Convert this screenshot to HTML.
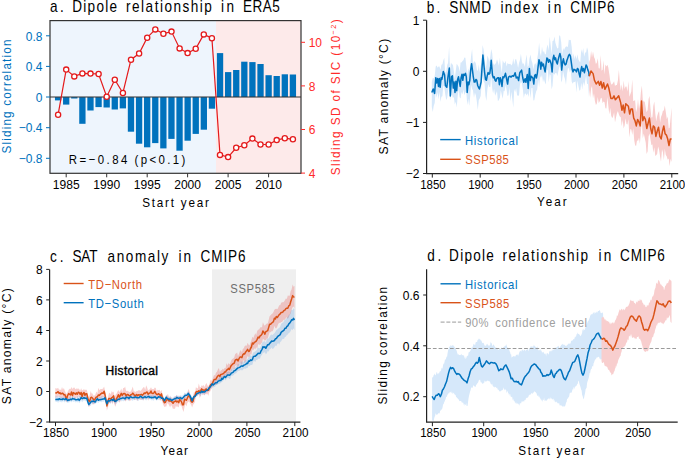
<!DOCTYPE html>
<html><head><meta charset="utf-8"><style>
html,body{margin:0;padding:0;background:#fff;}
svg{display:block;}
text{font-family:"Liberation Sans",sans-serif;}
</style></head><body>
<svg width="685" height="459" viewBox="0 0 685 459">
<rect width="685" height="459" fill="#fff"/>
<rect x="50.0" y="20.6" width="166.0" height="152.7" fill="#eef5fd"/>
<rect x="216.0" y="20.6" width="85.0" height="152.7" fill="#fdeaea"/>
<rect x="54.95" y="97.05" width="6.3" height="3.35" fill="#0072BD"/>
<rect x="63.04" y="97.05" width="6.3" height="7.55" fill="#0072BD"/>
<rect x="71.14" y="97.05" width="6.3" height="1.45" fill="#0072BD"/>
<rect x="79.24" y="97.05" width="6.3" height="26.75" fill="#0072BD"/>
<rect x="87.33" y="97.05" width="6.3" height="13.45" fill="#0072BD"/>
<rect x="95.43" y="97.05" width="6.3" height="10.05" fill="#0072BD"/>
<rect x="103.53" y="97.05" width="6.3" height="10.45" fill="#0072BD"/>
<rect x="111.63" y="97.05" width="6.3" height="12.45" fill="#0072BD"/>
<rect x="119.72" y="97.05" width="6.3" height="11.35" fill="#0072BD"/>
<rect x="127.82" y="97.05" width="6.3" height="34.65" fill="#0072BD"/>
<rect x="135.92" y="97.05" width="6.3" height="46.65" fill="#0072BD"/>
<rect x="144.01" y="97.05" width="6.3" height="50.25" fill="#0072BD"/>
<rect x="152.11" y="97.05" width="6.3" height="46.05" fill="#0072BD"/>
<rect x="160.21" y="97.05" width="6.3" height="51.35" fill="#0072BD"/>
<rect x="168.30" y="97.05" width="6.3" height="41.85" fill="#0072BD"/>
<rect x="176.40" y="97.05" width="6.3" height="53.65" fill="#0072BD"/>
<rect x="184.50" y="97.05" width="6.3" height="43.65" fill="#0072BD"/>
<rect x="192.60" y="97.05" width="6.3" height="36.85" fill="#0072BD"/>
<rect x="200.69" y="97.05" width="6.3" height="32.65" fill="#0072BD"/>
<rect x="208.79" y="97.05" width="6.3" height="11.65" fill="#0072BD"/>
<rect x="216.89" y="53.10" width="6.3" height="43.95" fill="#0072BD"/>
<rect x="224.98" y="72.10" width="6.3" height="24.95" fill="#0072BD"/>
<rect x="233.08" y="70.00" width="6.3" height="27.05" fill="#0072BD"/>
<rect x="241.18" y="61.70" width="6.3" height="35.35" fill="#0072BD"/>
<rect x="249.27" y="62.10" width="6.3" height="34.95" fill="#0072BD"/>
<rect x="257.37" y="64.00" width="6.3" height="33.05" fill="#0072BD"/>
<rect x="265.47" y="75.20" width="6.3" height="21.85" fill="#0072BD"/>
<rect x="273.57" y="76.00" width="6.3" height="21.05" fill="#0072BD"/>
<rect x="281.66" y="74.30" width="6.3" height="22.75" fill="#0072BD"/>
<rect x="289.76" y="74.50" width="6.3" height="22.55" fill="#0072BD"/>
<line x1="50.0" y1="97.05" x2="301.0" y2="97.05" stroke="#333" stroke-width="1.1"/>
<polyline points="58.1,114.7 66.2,69.6 74.3,76.4 82.4,73.4 90.5,73.6 98.6,74.0 106.7,96.7 114.8,79.7 122.9,93.0 131.0,59.7 139.1,53.5 147.2,37.7 155.3,29.4 163.4,33.7 171.5,31.6 179.6,48.4 187.6,53.1 195.7,48.8 203.8,34.4 211.9,38.2 220.0,154.9 228.1,157.1 236.2,147.8 244.3,145.3 252.4,138.6 260.5,144.5 268.6,144.5 276.7,140.1 284.8,138.2 292.9,139.3" fill="none" stroke="#e41a1c" stroke-width="1.2"/>
<circle cx="58.1" cy="114.7" r="2.6" fill="#fff" stroke="#e41a1c" stroke-width="1.3"/>
<circle cx="66.2" cy="69.6" r="2.6" fill="#fff" stroke="#e41a1c" stroke-width="1.3"/>
<circle cx="74.3" cy="76.4" r="2.6" fill="#fff" stroke="#e41a1c" stroke-width="1.3"/>
<circle cx="82.4" cy="73.4" r="2.6" fill="#fff" stroke="#e41a1c" stroke-width="1.3"/>
<circle cx="90.5" cy="73.6" r="2.6" fill="#fff" stroke="#e41a1c" stroke-width="1.3"/>
<circle cx="98.6" cy="74.0" r="2.6" fill="#fff" stroke="#e41a1c" stroke-width="1.3"/>
<circle cx="106.7" cy="96.7" r="2.6" fill="#fff" stroke="#e41a1c" stroke-width="1.3"/>
<circle cx="114.8" cy="79.7" r="2.6" fill="#fff" stroke="#e41a1c" stroke-width="1.3"/>
<circle cx="122.9" cy="93.0" r="2.6" fill="#fff" stroke="#e41a1c" stroke-width="1.3"/>
<circle cx="131.0" cy="59.7" r="2.6" fill="#fff" stroke="#e41a1c" stroke-width="1.3"/>
<circle cx="139.1" cy="53.5" r="2.6" fill="#fff" stroke="#e41a1c" stroke-width="1.3"/>
<circle cx="147.2" cy="37.7" r="2.6" fill="#fff" stroke="#e41a1c" stroke-width="1.3"/>
<circle cx="155.3" cy="29.4" r="2.6" fill="#fff" stroke="#e41a1c" stroke-width="1.3"/>
<circle cx="163.4" cy="33.7" r="2.6" fill="#fff" stroke="#e41a1c" stroke-width="1.3"/>
<circle cx="171.5" cy="31.6" r="2.6" fill="#fff" stroke="#e41a1c" stroke-width="1.3"/>
<circle cx="179.6" cy="48.4" r="2.6" fill="#fff" stroke="#e41a1c" stroke-width="1.3"/>
<circle cx="187.6" cy="53.1" r="2.6" fill="#fff" stroke="#e41a1c" stroke-width="1.3"/>
<circle cx="195.7" cy="48.8" r="2.6" fill="#fff" stroke="#e41a1c" stroke-width="1.3"/>
<circle cx="203.8" cy="34.4" r="2.6" fill="#fff" stroke="#e41a1c" stroke-width="1.3"/>
<circle cx="211.9" cy="38.2" r="2.6" fill="#fff" stroke="#e41a1c" stroke-width="1.3"/>
<circle cx="220.0" cy="154.9" r="2.6" fill="#fff" stroke="#e41a1c" stroke-width="1.3"/>
<circle cx="228.1" cy="157.1" r="2.6" fill="#fff" stroke="#e41a1c" stroke-width="1.3"/>
<circle cx="236.2" cy="147.8" r="2.6" fill="#fff" stroke="#e41a1c" stroke-width="1.3"/>
<circle cx="244.3" cy="145.3" r="2.6" fill="#fff" stroke="#e41a1c" stroke-width="1.3"/>
<circle cx="252.4" cy="138.6" r="2.6" fill="#fff" stroke="#e41a1c" stroke-width="1.3"/>
<circle cx="260.5" cy="144.5" r="2.6" fill="#fff" stroke="#e41a1c" stroke-width="1.3"/>
<circle cx="268.6" cy="144.5" r="2.6" fill="#fff" stroke="#e41a1c" stroke-width="1.3"/>
<circle cx="276.7" cy="140.1" r="2.6" fill="#fff" stroke="#e41a1c" stroke-width="1.3"/>
<circle cx="284.8" cy="138.2" r="2.6" fill="#fff" stroke="#e41a1c" stroke-width="1.3"/>
<circle cx="292.9" cy="139.3" r="2.6" fill="#fff" stroke="#e41a1c" stroke-width="1.3"/>
<rect x="50.0" y="20.6" width="251.0" height="152.7" fill="none" stroke="#333" stroke-width="1.2"/>
<line x1="46.0" y1="35.8" x2="50.0" y2="35.8" stroke="#0072BD" stroke-width="1"/>
<text transform="translate(42.50,40.50) scale(0.96,1)" font-size="12.5" fill="#0072BD" text-anchor="end" >0.8</text>
<line x1="46.0" y1="66.4" x2="50.0" y2="66.4" stroke="#0072BD" stroke-width="1"/>
<text transform="translate(42.50,71.13) scale(0.96,1)" font-size="12.5" fill="#0072BD" text-anchor="end" >0.4</text>
<line x1="46.0" y1="97.0" x2="50.0" y2="97.0" stroke="#0072BD" stroke-width="1"/>
<text transform="translate(42.50,101.75) scale(0.96,1)" font-size="12.5" fill="#0072BD" text-anchor="end" >0</text>
<line x1="46.0" y1="127.7" x2="50.0" y2="127.7" stroke="#0072BD" stroke-width="1"/>
<text transform="translate(42.50,132.37) scale(0.96,1)" font-size="12.5" fill="#0072BD" text-anchor="end" >−0.4</text>
<line x1="46.0" y1="158.3" x2="50.0" y2="158.3" stroke="#0072BD" stroke-width="1"/>
<text transform="translate(42.50,163.00) scale(0.96,1)" font-size="12.5" fill="#0072BD" text-anchor="end" >−0.8</text>
<line x1="301.0" y1="42.3" x2="305.0" y2="42.3" stroke="#ff2a2a" stroke-width="1"/>
<text transform="translate(308.70,47.00) scale(0.96,1)" font-size="12.5" fill="#ff2a2a" >10</text>
<line x1="301.0" y1="85.9" x2="305.0" y2="85.9" stroke="#ff2a2a" stroke-width="1"/>
<text transform="translate(308.70,90.60) scale(0.96,1)" font-size="12.5" fill="#ff2a2a" >8</text>
<line x1="301.0" y1="129.5" x2="305.0" y2="129.5" stroke="#ff2a2a" stroke-width="1"/>
<text transform="translate(308.70,134.20) scale(0.96,1)" font-size="12.5" fill="#ff2a2a" >6</text>
<line x1="301.0" y1="173.1" x2="305.0" y2="173.1" stroke="#ff2a2a" stroke-width="1"/>
<text transform="translate(308.70,177.80) scale(0.96,1)" font-size="12.5" fill="#ff2a2a" >4</text>
<line x1="66.2" y1="173.3" x2="66.2" y2="177.3" stroke="#333" stroke-width="1"/>
<text x="66.2" y="188.6" font-size="12.5" fill="#000" text-anchor="middle" textLength="26.80" lengthAdjust="spacingAndGlyphs" >1985</text>
<line x1="106.7" y1="173.3" x2="106.7" y2="177.3" stroke="#333" stroke-width="1"/>
<text x="106.7" y="188.6" font-size="12.5" fill="#000" text-anchor="middle" textLength="26.80" lengthAdjust="spacingAndGlyphs" >1990</text>
<line x1="147.2" y1="173.3" x2="147.2" y2="177.3" stroke="#333" stroke-width="1"/>
<text x="147.2" y="188.6" font-size="12.5" fill="#000" text-anchor="middle" textLength="26.80" lengthAdjust="spacingAndGlyphs" >1995</text>
<line x1="187.6" y1="173.3" x2="187.6" y2="177.3" stroke="#333" stroke-width="1"/>
<text x="187.6" y="188.6" font-size="12.5" fill="#000" text-anchor="middle" textLength="26.80" lengthAdjust="spacingAndGlyphs" >2000</text>
<line x1="228.1" y1="173.3" x2="228.1" y2="177.3" stroke="#333" stroke-width="1"/>
<text x="228.1" y="188.6" font-size="12.5" fill="#000" text-anchor="middle" textLength="26.80" lengthAdjust="spacingAndGlyphs" >2005</text>
<line x1="268.6" y1="173.3" x2="268.6" y2="177.3" stroke="#333" stroke-width="1"/>
<text x="268.6" y="188.6" font-size="12.5" fill="#000" text-anchor="middle" textLength="26.80" lengthAdjust="spacingAndGlyphs" >2010</text>
<text transform="translate(50.02,12.20) scale(0.86,1)" font-size="15.8" fill="#000" textLength="16.07" lengthAdjust="spacing">a.</text>
<text transform="translate(72.29,12.20) scale(0.86,1)" font-size="15.8" fill="#000" textLength="52.00" lengthAdjust="spacing">Dipole</text>
<text transform="translate(126.10,12.20) scale(0.86,1)" font-size="15.8" fill="#000" textLength="99.62" lengthAdjust="spacing">relationship</text>
<text transform="translate(220.89,12.20) scale(0.86,1)" font-size="15.8" fill="#000" textLength="15.22" lengthAdjust="spacing">in</text>
<text transform="translate(242.89,12.20) scale(0.86,1)" font-size="15.8" fill="#000" textLength="43.01" lengthAdjust="spacing">ERA5</text>
<text transform="translate(142.20,206.70) scale(0.9,1)" font-size="13" fill="#000" textLength="74.22" lengthAdjust="spacing" >Start year</text>
<text transform="translate(10.60,153.50) rotate(-90) scale(0.9,1)" font-size="13" fill="#0072BD" textLength="126.56" lengthAdjust="spacing" >Sliding correlation</text>
<text transform="translate(339.80,175.20) rotate(-90) scale(0.9,1)" font-size="13" fill="#ff2a2a" textLength="173.11" lengthAdjust="spacing" >Sliding SD of SIC (10<tspan dy="-4" font-size="8">−2</tspan><tspan dy="4">)</tspan></text>
<text transform="translate(68.66,164.20) scale(0.9,1)" font-size="12.7" fill="#000" textLength="65.19" lengthAdjust="spacing">R=−0.84</text>
<text transform="translate(134.59,164.20) scale(0.9,1)" font-size="12.7" fill="#000" textLength="56.24" lengthAdjust="spacing">(p&lt;0.1)</text>
<path d="M431.8,82.0 L432.8,77.7 L433.7,78.4 L434.7,76.0 L435.7,66.5 L436.6,65.4 L437.6,67.7 L438.5,66.4 L439.5,66.6 L440.5,69.9 L441.4,64.7 L442.4,64.2 L443.3,60.4 L444.3,57.8 L445.2,72.7 L446.2,71.5 L447.2,65.1 L448.1,62.7 L449.1,46.5 L450.0,70.0 L451.0,62.6 L452.0,64.4 L452.9,64.5 L453.9,71.6 L454.8,78.8 L455.8,70.6 L456.7,63.8 L457.7,65.2 L458.7,67.0 L459.6,72.1 L460.6,62.5 L461.5,62.4 L462.5,61.0 L463.4,60.3 L464.4,57.5 L465.4,57.8 L466.3,66.1 L467.3,75.3 L468.2,68.2 L469.2,72.2 L470.2,65.0 L471.1,55.9 L472.1,48.9 L473.0,63.7 L474.0,61.6 L474.9,61.5 L475.9,63.4 L476.9,69.5 L477.8,71.2 L478.8,64.3 L479.7,72.2 L480.7,65.5 L481.6,62.8 L482.6,44.9 L483.6,49.5 L484.5,56.4 L485.5,68.4 L486.4,65.1 L487.4,55.4 L488.4,58.1 L489.3,62.0 L490.3,56.4 L491.2,49.1 L492.2,53.2 L493.1,62.9 L494.1,65.1 L495.1,63.9 L496.0,63.0 L497.0,59.3 L497.9,62.0 L498.9,65.7 L499.9,57.8 L500.8,65.7 L501.8,73.3 L502.7,60.2 L503.7,62.6 L504.6,63.3 L505.6,60.8 L506.6,66.5 L507.5,63.1 L508.5,63.9 L509.4,64.0 L510.4,63.8 L511.3,65.5 L512.3,63.9 L513.3,58.3 L514.2,64.4 L515.2,59.6 L516.1,59.0 L517.1,62.7 L518.1,68.1 L519.0,63.1 L520.0,59.8 L520.9,53.7 L521.9,61.6 L522.8,63.9 L523.8,63.3 L524.8,66.9 L525.7,60.0 L526.7,54.4 L527.6,66.9 L528.6,65.6 L529.5,58.6 L530.5,54.4 L531.5,60.6 L532.4,62.9 L533.4,69.4 L534.3,64.8 L535.3,63.1 L536.3,65.6 L537.2,58.8 L538.2,52.5 L539.1,42.8 L540.1,52.9 L541.0,56.2 L542.0,46.4 L543.0,52.7 L543.9,50.7 L544.9,54.1 L545.8,54.4 L546.8,47.4 L547.8,44.5 L548.7,50.7 L549.7,36.5 L550.6,44.4 L551.6,54.4 L552.5,40.9 L553.5,40.7 L554.5,36.5 L555.4,42.8 L556.4,45.9 L557.3,48.4 L558.3,47.9 L559.2,35.2 L560.2,36.0 L561.2,42.3 L562.1,55.3 L563.1,47.9 L564.0,50.3 L565.0,47.7 L566.0,46.5 L566.9,46.5 L567.9,46.9 L568.8,39.5 L569.8,40.3 L570.7,39.7 L571.7,46.9 L572.7,59.3 L573.6,53.3 L574.6,59.3 L575.5,55.1 L576.5,59.2 L577.4,54.3 L578.4,59.4 L579.4,61.6 L580.3,62.1 L581.3,49.0 L582.2,53.3 L583.2,48.0 L584.2,56.8 L585.1,52.4 L586.1,52.4 L587.0,47.2 L588.0,50.4 L588.9,62.2 L588.9,97.6 L588.0,83.9 L587.0,83.8 L586.1,75.6 L585.1,81.5 L584.2,86.1 L583.2,81.8 L582.2,89.5 L581.3,82.8 L580.3,90.1 L579.4,90.8 L578.4,86.0 L577.4,80.5 L576.5,92.7 L575.5,81.3 L574.6,81.9 L573.6,82.1 L572.7,83.8 L571.7,81.8 L570.7,69.4 L569.8,72.6 L568.8,67.9 L567.9,68.6 L566.9,74.4 L566.0,85.0 L565.0,79.1 L564.0,76.1 L563.1,71.1 L562.1,80.3 L561.2,82.5 L560.2,65.4 L559.2,67.5 L558.3,71.4 L557.3,75.9 L556.4,73.1 L555.4,73.1 L554.5,74.8 L553.5,73.4 L552.5,85.9 L551.6,89.6 L550.6,75.2 L549.7,74.1 L548.7,82.4 L547.8,69.4 L546.8,71.1 L545.8,84.4 L544.9,82.6 L543.9,79.0 L543.0,82.3 L542.0,74.8 L541.0,77.9 L540.1,76.0 L539.1,87.5 L538.2,79.4 L537.2,89.4 L536.3,90.9 L535.3,94.7 L534.3,100.2 L533.4,100.4 L532.4,88.0 L531.5,87.9 L530.5,98.3 L529.5,87.8 L528.6,96.9 L527.6,93.2 L526.7,95.4 L525.7,93.4 L524.8,93.8 L523.8,97.9 L522.8,88.9 L521.9,83.0 L520.9,81.9 L520.0,84.0 L519.0,95.8 L518.1,95.4 L517.1,95.5 L516.1,87.9 L515.2,92.2 L514.2,88.9 L513.3,107.7 L512.3,99.0 L511.3,91.8 L510.4,101.4 L509.4,87.1 L508.5,95.2 L507.5,95.9 L506.6,89.7 L505.6,84.7 L504.6,91.3 L503.7,91.1 L502.7,98.8 L501.8,95.1 L500.8,90.3 L499.9,97.5 L498.9,99.9 L497.9,101.3 L497.0,91.1 L496.0,93.8 L495.1,95.8 L494.1,88.7 L493.1,93.4 L492.2,88.4 L491.2,75.2 L490.3,86.9 L489.3,87.0 L488.4,83.9 L487.4,89.1 L486.4,101.1 L485.5,96.2 L484.5,83.0 L483.6,81.6 L482.6,75.2 L481.6,84.6 L480.7,95.9 L479.7,98.4 L478.8,100.0 L477.8,110.1 L476.9,102.0 L475.9,95.4 L474.9,92.6 L474.0,98.0 L473.0,90.5 L472.1,88.8 L471.1,84.8 L470.2,96.4 L469.2,106.1 L468.2,98.7 L467.3,105.2 L466.3,92.9 L465.4,92.1 L464.4,95.2 L463.4,89.5 L462.5,94.3 L461.5,91.9 L460.6,98.5 L459.6,97.3 L458.7,89.2 L457.7,96.0 L456.7,107.4 L455.8,101.8 L454.8,104.5 L453.9,96.9 L452.9,98.1 L452.0,94.5 L451.0,95.7 L450.0,100.4 L449.1,81.8 L448.1,90.8 L447.2,98.1 L446.2,99.9 L445.2,94.1 L444.3,86.7 L443.3,85.4 L442.4,96.2 L441.4,96.8 L440.5,102.1 L439.5,91.7 L438.5,99.6 L437.6,92.0 L436.6,97.8 L435.7,90.9 L434.7,102.9 L433.7,105.9 L432.8,112.0 L431.8,107.1Z" fill="#d6e8fa"/>
<path d="M589.2,61.7 L590.1,59.4 L591.1,50.7 L592.0,57.4 L593.0,51.6 L594.0,57.1 L594.9,59.1 L595.9,64.0 L596.8,62.7 L597.8,58.2 L598.7,68.2 L599.7,68.5 L600.7,55.1 L601.6,70.8 L602.6,69.7 L603.5,60.2 L604.5,74.6 L605.4,64.5 L606.4,66.5 L607.4,64.7 L608.3,67.6 L609.3,74.1 L610.2,80.5 L611.2,84.4 L612.2,84.3 L613.1,82.9 L614.1,81.2 L615.0,86.0 L616.0,85.0 L616.9,84.9 L617.9,80.6 L618.9,69.7 L619.8,82.7 L620.8,90.6 L621.7,84.2 L622.7,91.6 L623.7,80.6 L624.6,89.0 L625.6,86.5 L626.5,86.6 L627.5,91.7 L628.4,81.0 L629.4,96.8 L630.4,94.1 L631.3,91.6 L632.3,79.5 L633.2,100.9 L634.2,100.8 L635.1,100.1 L636.1,112.3 L637.1,108.2 L638.0,99.1 L639.0,108.9 L639.9,104.0 L640.9,92.1 L641.9,85.6 L642.8,99.8 L643.8,101.8 L644.7,101.6 L645.7,107.6 L646.6,112.3 L647.6,110.1 L648.6,99.1 L649.5,95.9 L650.5,108.4 L651.4,117.6 L652.4,117.2 L653.3,106.0 L654.3,101.4 L655.3,113.4 L656.2,121.3 L657.2,115.9 L658.1,113.1 L659.1,110.9 L660.1,122.7 L661.0,117.1 L662.0,114.6 L662.9,110.7 L663.9,110.6 L664.8,105.6 L665.8,111.9 L666.8,119.2 L667.7,116.5 L668.7,128.5 L669.6,127.7 L670.6,118.1 L671.6,107.5 L671.6,161.9 L670.6,158.8 L669.6,166.2 L668.7,158.5 L667.7,159.7 L666.8,156.5 L665.8,155.1 L664.8,148.8 L663.9,160.3 L662.9,152.2 L662.0,149.3 L661.0,161.7 L660.1,156.5 L659.1,149.8 L658.1,146.5 L657.2,153.8 L656.2,155.3 L655.3,156.0 L654.3,147.2 L653.3,152.8 L652.4,144.2 L651.4,145.2 L650.5,139.6 L649.5,133.5 L648.6,136.2 L647.6,151.6 L646.6,154.0 L645.7,142.6 L644.7,137.7 L643.8,133.6 L642.8,138.6 L641.9,122.9 L640.9,130.8 L639.9,143.7 L639.0,137.6 L638.0,141.2 L637.1,140.1 L636.1,145.9 L635.1,145.3 L634.2,139.9 L633.2,128.0 L632.3,134.9 L631.3,129.5 L630.4,129.0 L629.4,137.5 L628.4,119.1 L627.5,124.6 L626.5,124.1 L625.6,118.3 L624.6,125.4 L623.7,128.4 L622.7,119.8 L621.7,126.3 L620.8,117.2 L619.8,116.6 L618.9,114.4 L617.9,111.1 L616.9,113.5 L616.0,117.4 L615.0,122.5 L614.1,112.3 L613.1,116.6 L612.2,118.3 L611.2,115.8 L610.2,107.7 L609.3,114.4 L608.3,105.7 L607.4,97.1 L606.4,108.4 L605.4,108.3 L604.5,102.2 L603.5,101.5 L602.6,103.2 L601.6,97.7 L600.7,98.2 L599.7,101.4 L598.7,103.0 L597.8,97.1 L596.8,103.8 L595.9,105.1 L594.9,101.1 L594.0,93.2 L593.0,98.5 L592.0,86.0 L591.1,88.4 L590.1,97.8 L589.2,90.0Z" fill="#f8cece"/>
<polyline points="431.8,92.5 433.2,89.0 434.6,93.4 435.8,77.7 436.7,82.9 437.6,78.6 438.5,86.4 439.3,78.6 440.2,87.3 441.1,77.7 441.9,79.4 443.3,71.6 444.6,75.1 445.4,85.5 446.8,87.3 448.0,76.8 449.3,68.1 450.3,96.0 451.5,76.8 452.4,75.9 453.3,88.1 454.1,82.0 455.0,92.5 455.9,81.2 456.7,90.7 457.6,79.4 458.5,76.8 459.4,82.0 460.2,86.4 461.1,77.7 462.0,74.2 462.8,80.3 463.7,74.2 464.6,75.1 465.5,73.3 466.3,76.8 467.2,92.5 468.1,82.0 468.9,84.7 469.8,80.3 470.7,69.8 471.6,63.7 472.4,69.8 473.3,76.8 474.2,82.0 475.0,82.0 475.9,79.4 476.8,80.3 477.7,85.5 478.5,87.3 479.4,89.0 480.3,85.5 481.1,82.0 482.0,68.1 482.9,55.0 483.7,62.9 484.6,72.5 485.5,79.4 486.4,80.3 487.2,75.9 488.1,72.5 489.0,74.2 489.8,73.3 490.7,66.4 491.2,60.3 491.9,68.1 492.5,75.1 493.3,77.7 494.2,76.8 495.1,80.3 495.9,81.2 496.8,78.6 497.7,77.7 498.6,77.7 499.4,84.7 500.3,77.7 501.2,80.3 502.0,86.4 502.9,76.8 503.8,77.7 504.7,75.9 505.5,73.3 507.6,84.1 508.5,77.1 509.9,76.2 511.1,77.1 512.3,75.7 513.7,76.2 515.1,72.7 516.3,78.0 517.6,77.1 518.6,80.6 519.8,72.7 521.6,70.1 522.8,78.0 523.8,82.3 525.1,78.8 525.9,82.3 527.3,74.5 528.2,88.4 529.4,68.4 530.3,80.6 531.2,76.2 532.0,77.1 532.9,78.0 533.8,84.1 534.7,75.4 535.5,74.5 536.4,78.0 537.3,73.6 538.1,66.6 539.0,59.7 539.9,62.3 540.8,69.2 541.6,62.3 542.5,65.8 543.4,64.0 544.2,68.4 545.1,71.9 546.0,64.9 546.9,57.9 547.7,58.8 548.6,62.3 549.5,59.7 550.4,61.4 551.2,64.0 552.1,71.9 553.0,58.8 553.8,55.3 554.7,59.7 555.6,57.9 556.5,62.3 557.3,64.0 558.2,59.7 559.1,56.2 559.9,53.5 560.8,57.0 561.7,70.1 562.6,62.3 563.4,58.8 564.3,63.1 565.2,64.9 566.1,64.0 566.9,60.5 567.8,57.9 568.7,55.3 569.5,54.4 570.4,56.2 571.3,62.3 572.2,69.2 573.0,71.9 573.9,69.2 574.8,70.1 575.6,70.1 576.5,71.9 577.4,68.4 578.3,69.2 579.1,73.6 580.0,77.1 580.9,70.1 581.7,66.6 582.6,71.0 583.5,68.4 584.4,72.7 585.2,69.2 586.1,64.9 587.0,66.6 587.9,70.1 588.7,71.9 589.2,76.2" fill="none" stroke="#0072BD" stroke-width="1.5" stroke-linejoin="round"/>
<polyline points="589.2,76.2 591.0,70.9 593.1,73.6 594.4,80.1 596.2,84.0 598.3,81.4 599.6,85.3 600.9,81.4 602.3,88.0 603.6,82.7 604.9,89.3 606.2,86.6 607.5,84.0 608.8,88.0 610.9,98.4 612.7,98.4 614.0,95.8 615.3,99.7 616.6,98.4 618.7,95.8 620.6,102.4 621.9,110.2 623.2,105.0 624.5,112.8 625.8,103.7 627.1,105.0 628.4,106.3 629.7,114.1 631.0,108.9 632.4,108.9 633.7,118.1 635.0,120.7 636.3,125.9 637.6,119.4 638.9,122.0 640.2,125.9 641.5,101.0 642.8,120.7 644.1,116.8 645.4,119.4 646.8,128.5 648.1,123.3 649.4,118.1 650.7,128.5 652.0,133.8 653.3,125.9 654.6,127.2 655.9,136.4 657.2,131.2 658.5,127.2 659.8,136.4 661.2,139.0 662.5,131.2 663.8,125.9 665.1,133.8 666.4,135.1 667.7,139.0 669.0,145.5 670.3,139.0 671.6,139.0" fill="none" stroke="#D95319" stroke-width="1.5" stroke-linejoin="round"/>
<path d="M426.6,20.2 V173.6 H678.2" fill="none" stroke="#222" stroke-width="1.2"/>
<line x1="423" y1="20.2" x2="426.6" y2="20.2" stroke="#222" stroke-width="1"/>
<text transform="translate(419.50,24.90) scale(0.96,1)" font-size="12.5" fill="#000" text-anchor="end" >1</text>
<line x1="423" y1="71.3" x2="426.6" y2="71.3" stroke="#222" stroke-width="1"/>
<text transform="translate(419.50,76.00) scale(0.96,1)" font-size="12.5" fill="#000" text-anchor="end" >0</text>
<line x1="423" y1="122.4" x2="426.6" y2="122.4" stroke="#222" stroke-width="1"/>
<text transform="translate(419.50,127.10) scale(0.96,1)" font-size="12.5" fill="#000" text-anchor="end" >−1</text>
<line x1="423" y1="173.5" x2="426.6" y2="173.5" stroke="#222" stroke-width="1"/>
<text transform="translate(419.50,178.20) scale(0.96,1)" font-size="12.5" fill="#000" text-anchor="end" >−2</text>
<line x1="432.3" y1="173.6" x2="432.3" y2="177.6" stroke="#222" stroke-width="1"/>
<text x="433.0" y="189.0" font-size="12.5" fill="#000" text-anchor="middle" textLength="25.50" lengthAdjust="spacingAndGlyphs" >1850</text>
<line x1="480.2" y1="173.6" x2="480.2" y2="177.6" stroke="#222" stroke-width="1"/>
<text x="480.9" y="189.0" font-size="12.5" fill="#000" text-anchor="middle" textLength="25.50" lengthAdjust="spacingAndGlyphs" >1900</text>
<line x1="528.1" y1="173.6" x2="528.1" y2="177.6" stroke="#222" stroke-width="1"/>
<text x="528.8" y="189.0" font-size="12.5" fill="#000" text-anchor="middle" textLength="25.50" lengthAdjust="spacingAndGlyphs" >1950</text>
<line x1="576.0" y1="173.6" x2="576.0" y2="177.6" stroke="#222" stroke-width="1"/>
<text x="576.7" y="189.0" font-size="12.5" fill="#000" text-anchor="middle" textLength="25.50" lengthAdjust="spacingAndGlyphs" >2000</text>
<line x1="623.9" y1="173.6" x2="623.9" y2="177.6" stroke="#222" stroke-width="1"/>
<text x="624.6" y="189.0" font-size="12.5" fill="#000" text-anchor="middle" textLength="25.50" lengthAdjust="spacingAndGlyphs" >2050</text>
<line x1="671.8" y1="173.6" x2="671.8" y2="177.6" stroke="#222" stroke-width="1"/>
<text x="672.5" y="189.0" font-size="12.5" fill="#000" text-anchor="middle" textLength="25.50" lengthAdjust="spacingAndGlyphs" >2100</text>
<text transform="translate(426.72,12.50) scale(0.86,1)" font-size="15.8" fill="#000" textLength="15.72" lengthAdjust="spacing">b.</text>
<text transform="translate(449.28,12.50) scale(0.86,1)" font-size="15.8" fill="#000" textLength="48.57" lengthAdjust="spacing">SNMD</text>
<text transform="translate(500.49,12.50) scale(0.86,1)" font-size="15.8" fill="#000" textLength="44.02" lengthAdjust="spacing">index</text>
<text transform="translate(547.79,12.50) scale(0.86,1)" font-size="15.8" fill="#000" textLength="15.69" lengthAdjust="spacing">in</text>
<text transform="translate(570.31,12.50) scale(0.86,1)" font-size="15.8" fill="#000" textLength="51.38" lengthAdjust="spacing">CMIP6</text>
<text transform="translate(537.00,206.20) scale(0.9,1)" font-size="13" fill="#000" textLength="32.89" lengthAdjust="spacing" >Year</text>
<text transform="translate(387.60,154.40) rotate(-90) scale(0.9,1)" font-size="13.5" fill="#000" textLength="128.44" lengthAdjust="spacing" >SAT anomaly (°C)</text>
<line x1="440.2" y1="139.6" x2="460.7" y2="139.6" stroke="#0072BD" stroke-width="1.4"/>
<line x1="440.2" y1="159.3" x2="460.7" y2="159.3" stroke="#D95319" stroke-width="1.4"/>
<text transform="translate(464.88,144.80) scale(0.88,1)" font-size="12.8" fill="#0072BD" textLength="60.32" lengthAdjust="spacing">Historical</text>
<text transform="translate(465.29,164.20) scale(0.88,1)" font-size="12.8" fill="#D95319" textLength="49.53" lengthAdjust="spacing">SSP585</text>
<rect x="212" y="269.3" width="84" height="152.8" fill="#efefef"/>
<path d="M55.3,387.9 L56.2,388.6 L57.2,388.5 L58.1,387.7 L59.1,390.0 L60.0,389.3 L61.0,390.3 L62.0,387.1 L62.9,389.6 L63.9,388.1 L64.8,390.7 L65.8,392.9 L66.7,393.9 L67.7,391.7 L68.7,389.8 L69.6,388.7 L70.6,388.9 L71.5,387.0 L72.5,389.0 L73.4,387.7 L74.4,387.5 L75.4,389.3 L76.3,388.5 L77.3,388.8 L78.2,388.4 L79.2,388.9 L80.1,390.9 L81.1,388.3 L82.1,390.5 L83.0,389.9 L84.0,389.0 L84.9,390.3 L85.9,389.6 L86.8,390.1 L87.8,393.6 L88.8,397.7 L89.7,395.3 L90.7,391.1 L91.6,393.4 L92.6,393.4 L93.5,395.8 L94.5,395.5 L95.4,394.6 L96.4,391.4 L97.4,393.5 L98.3,387.8 L99.3,390.3 L100.2,389.3 L101.2,388.9 L102.1,388.9 L103.1,388.5 L104.1,386.6 L105.0,390.4 L106.0,395.5 L106.9,401.3 L107.9,397.9 L108.8,393.6 L109.8,392.8 L110.8,394.5 L111.7,390.9 L112.7,392.5 L113.6,391.6 L114.6,397.3 L115.5,394.7 L116.5,393.7 L117.5,391.5 L118.4,390.1 L119.4,391.9 L120.3,390.9 L121.3,388.6 L122.2,391.9 L123.2,387.9 L124.2,387.9 L125.1,386.6 L126.1,390.9 L127.0,390.8 L128.0,390.9 L128.9,391.8 L129.9,392.1 L130.9,391.2 L131.8,389.3 L132.8,386.4 L133.7,390.9 L134.7,391.5 L135.6,392.0 L136.6,390.9 L137.6,391.0 L138.5,390.3 L139.5,390.3 L140.4,390.9 L141.4,390.1 L142.3,388.7 L143.3,387.3 L144.3,387.3 L145.2,389.7 L146.2,385.2 L147.1,387.5 L148.1,390.6 L149.0,389.7 L150.0,388.9 L151.0,387.3 L151.9,389.1 L152.9,389.1 L153.8,389.1 L154.8,387.4 L155.7,388.1 L156.7,391.2 L157.7,389.7 L158.6,390.2 L159.6,389.7 L160.5,391.9 L161.5,389.8 L162.4,394.2 L163.4,397.3 L164.4,399.2 L165.3,398.6 L166.3,395.7 L167.2,394.5 L168.2,394.4 L169.1,397.8 L170.1,396.3 L171.1,397.2 L172.0,397.5 L173.0,399.7 L173.9,397.4 L174.9,396.4 L175.8,396.3 L176.8,395.0 L177.8,396.7 L178.7,396.2 L179.7,396.2 L180.6,395.6 L181.6,397.5 L182.5,399.3 L183.5,400.2 L184.5,393.1 L185.4,395.7 L186.4,397.0 L187.3,393.3 L188.3,388.9 L189.2,390.4 L190.2,394.1 L191.1,397.5 L192.1,398.0 L193.1,396.9 L194.0,391.6 L195.0,392.7 L195.9,387.3 L196.9,388.1 L197.8,388.5 L198.8,383.6 L199.8,387.1 L200.7,387.2 L201.7,385.3 L202.6,386.0 L203.6,385.0 L204.5,387.0 L205.5,384.6 L206.5,383.1 L207.4,385.6 L208.4,386.1 L209.3,385.1 L210.3,380.2 L211.2,380.2 L212.2,380.7 L213.2,377.2 L214.1,375.1 L215.1,375.6 L216.0,372.7 L217.0,371.8 L217.9,369.6 L218.9,368.1 L219.9,372.2 L220.8,370.4 L221.8,369.9 L222.7,368.8 L223.7,369.6 L224.6,368.1 L225.6,367.9 L226.6,363.1 L227.5,365.5 L228.5,363.1 L229.4,364.5 L230.4,362.7 L231.3,360.2 L232.3,358.9 L233.3,358.4 L234.2,357.4 L235.2,353.9 L236.1,353.5 L237.1,352.6 L238.0,356.2 L239.0,353.8 L240.0,351.1 L240.9,350.2 L241.9,352.4 L242.8,349.1 L243.8,348.2 L244.7,346.1 L245.7,345.5 L246.7,345.7 L247.6,342.7 L248.6,344.7 L249.5,345.6 L250.5,342.8 L251.4,340.2 L252.4,336.8 L253.4,338.0 L254.3,335.6 L255.3,333.3 L256.2,335.3 L257.2,331.0 L258.1,329.7 L259.1,329.5 L260.1,327.8 L261.0,327.0 L262.0,327.4 L262.9,322.2 L263.9,324.8 L264.8,325.7 L265.8,324.6 L266.8,323.4 L267.7,323.4 L268.7,320.1 L269.6,316.2 L270.6,315.2 L271.5,314.2 L272.5,313.4 L273.5,312.0 L274.4,309.8 L275.4,309.1 L276.3,308.7 L277.3,309.3 L278.2,307.7 L279.2,305.3 L280.2,305.2 L281.1,302.9 L282.1,301.9 L283.0,302.5 L284.0,301.7 L284.9,300.3 L285.9,298.5 L286.8,299.0 L287.8,295.6 L288.8,295.8 L289.7,295.7 L290.7,291.1 L291.6,289.6 L292.6,284.4 L293.5,286.7 L294.5,286.1 L294.5,307.9 L293.5,306.6 L292.6,307.2 L291.6,309.4 L290.7,313.6 L289.7,315.1 L288.8,317.2 L287.8,319.0 L286.8,317.1 L285.9,317.9 L284.9,319.8 L284.0,319.4 L283.0,320.6 L282.1,322.1 L281.1,321.9 L280.2,323.1 L279.2,322.8 L278.2,323.9 L277.3,326.5 L276.3,328.3 L275.4,328.2 L274.4,325.8 L273.5,329.2 L272.5,331.2 L271.5,331.3 L270.6,332.2 L269.6,332.3 L268.7,335.0 L267.7,338.3 L266.8,338.5 L265.8,340.0 L264.8,340.8 L263.9,339.6 L262.9,338.8 L262.0,342.5 L261.0,343.5 L260.1,345.1 L259.1,344.4 L258.1,344.2 L257.2,348.9 L256.2,347.1 L255.3,349.5 L254.3,348.3 L253.4,350.3 L252.4,349.5 L251.4,354.8 L250.5,354.0 L249.5,356.7 L248.6,357.0 L247.6,356.1 L246.7,358.5 L245.7,361.2 L244.7,363.3 L243.8,359.7 L242.8,362.0 L241.9,364.8 L240.9,364.1 L240.0,362.3 L239.0,364.7 L238.0,368.3 L237.1,365.0 L236.1,365.6 L235.2,365.8 L234.2,369.8 L233.3,368.4 L232.3,368.9 L231.3,371.1 L230.4,371.6 L229.4,375.8 L228.5,373.2 L227.5,376.5 L226.6,374.6 L225.6,376.8 L224.6,376.7 L223.7,377.8 L222.7,378.1 L221.8,379.3 L220.8,378.6 L219.9,381.2 L218.9,380.0 L217.9,380.1 L217.0,384.6 L216.0,384.9 L215.1,385.0 L214.1,384.8 L213.2,386.3 L212.2,387.9 L211.2,388.8 L210.3,391.2 L209.3,392.1 L208.4,395.8 L207.4,394.1 L206.5,394.3 L205.5,393.9 L204.5,394.9 L203.6,394.5 L202.6,395.3 L201.7,392.3 L200.7,396.1 L199.8,398.1 L198.8,394.2 L197.8,395.5 L196.9,396.4 L195.9,395.6 L195.0,402.1 L194.0,403.4 L193.1,404.8 L192.1,407.5 L191.1,404.7 L190.2,403.4 L189.2,401.6 L188.3,401.7 L187.3,403.1 L186.4,406.5 L185.4,404.0 L184.5,407.1 L183.5,412.0 L182.5,409.2 L181.6,406.2 L180.6,405.8 L179.7,403.1 L178.7,407.5 L177.8,406.5 L176.8,406.8 L175.8,405.9 L174.9,409.0 L173.9,408.6 L173.0,409.1 L172.0,406.4 L171.1,405.0 L170.1,407.5 L169.1,405.3 L168.2,403.8 L167.2,403.3 L166.3,406.4 L165.3,406.6 L164.4,407.0 L163.4,405.0 L162.4,402.3 L161.5,398.0 L160.5,400.7 L159.6,400.1 L158.6,397.5 L157.7,398.2 L156.7,400.0 L155.7,398.5 L154.8,395.2 L153.8,399.1 L152.9,397.4 L151.9,396.9 L151.0,395.7 L150.0,397.4 L149.0,399.0 L148.1,400.7 L147.1,396.0 L146.2,396.1 L145.2,399.4 L144.3,398.4 L143.3,400.6 L142.3,399.3 L141.4,399.8 L140.4,400.1 L139.5,399.3 L138.5,398.1 L137.6,401.2 L136.6,399.1 L135.6,399.4 L134.7,399.9 L133.7,398.9 L132.8,396.8 L131.8,398.1 L130.9,400.1 L129.9,401.3 L128.9,400.3 L128.0,398.7 L127.0,399.9 L126.1,400.4 L125.1,401.4 L124.2,398.3 L123.2,399.6 L122.2,399.0 L121.3,396.8 L120.3,401.6 L119.4,402.7 L118.4,400.4 L117.5,400.4 L116.5,402.7 L115.5,406.8 L114.6,405.0 L113.6,400.5 L112.7,404.4 L111.7,401.4 L110.8,403.3 L109.8,402.8 L108.8,403.7 L107.9,407.6 L106.9,410.5 L106.0,403.6 L105.0,399.4 L104.1,394.8 L103.1,398.1 L102.1,396.6 L101.2,399.7 L100.2,400.3 L99.3,398.8 L98.3,399.1 L97.4,400.5 L96.4,400.4 L95.4,402.0 L94.5,403.5 L93.5,404.5 L92.6,404.2 L91.6,401.4 L90.7,402.9 L89.7,406.0 L88.8,407.0 L87.8,403.8 L86.8,399.0 L85.9,399.5 L84.9,398.7 L84.0,398.2 L83.0,398.5 L82.1,400.6 L81.1,398.0 L80.1,398.5 L79.2,396.8 L78.2,396.3 L77.3,398.6 L76.3,396.7 L75.4,399.6 L74.4,398.0 L73.4,397.0 L72.5,399.0 L71.5,395.4 L70.6,400.5 L69.6,398.7 L68.7,401.4 L67.7,398.8 L66.7,402.2 L65.8,401.6 L64.8,399.1 L63.9,398.5 L62.9,398.1 L62.0,397.4 L61.0,398.6 L60.0,397.1 L59.1,397.4 L58.1,395.4 L57.2,397.7 L56.2,397.0 L55.3,399.3Z" fill="rgb(232,65,60)" fill-opacity="0.25"/>
<path d="M55.3,395.3 L56.2,396.5 L57.2,396.3 L58.1,396.3 L59.1,396.3 L60.0,396.7 L61.0,396.2 L62.0,397.2 L62.9,396.4 L63.9,396.4 L64.8,397.2 L65.8,396.0 L66.7,397.3 L67.7,398.5 L68.7,397.4 L69.6,396.8 L70.6,395.6 L71.5,396.7 L72.5,395.9 L73.4,396.6 L74.4,396.9 L75.4,397.4 L76.3,397.4 L77.3,396.3 L78.2,396.4 L79.2,396.1 L80.1,395.7 L81.1,394.7 L82.1,396.3 L83.0,396.3 L84.0,394.5 L84.9,395.5 L85.9,396.0 L86.8,395.0 L87.8,399.7 L88.8,402.2 L89.7,401.4 L90.7,399.8 L91.6,397.9 L92.6,398.8 L93.5,398.3 L94.5,398.7 L95.4,399.5 L96.4,397.6 L97.4,394.5 L98.3,398.3 L99.3,396.8 L100.2,397.3 L101.2,396.1 L102.1,396.3 L103.1,396.1 L104.1,395.9 L105.0,395.7 L106.0,397.8 L106.9,401.5 L107.9,398.3 L108.8,398.8 L109.8,397.9 L110.8,397.4 L111.7,397.5 L112.7,398.4 L113.6,396.9 L114.6,398.5 L115.5,397.9 L116.5,398.7 L117.5,396.8 L118.4,396.8 L119.4,396.7 L120.3,396.0 L121.3,396.5 L122.2,395.5 L123.2,395.9 L124.2,394.8 L125.1,395.8 L126.1,394.6 L127.0,395.0 L128.0,395.2 L128.9,395.6 L129.9,394.6 L130.9,394.7 L131.8,393.8 L132.8,395.2 L133.7,395.2 L134.7,394.8 L135.6,394.6 L136.6,394.8 L137.6,395.8 L138.5,395.6 L139.5,393.7 L140.4,394.1 L141.4,394.7 L142.3,395.5 L143.3,394.3 L144.3,394.8 L145.2,394.7 L146.2,395.6 L147.1,394.2 L148.1,394.1 L149.0,393.6 L150.0,395.4 L151.0,394.1 L151.9,395.3 L152.9,394.9 L153.8,394.7 L154.8,394.4 L155.7,395.0 L156.7,396.5 L157.7,394.7 L158.6,392.9 L159.6,394.2 L160.5,394.3 L161.5,395.3 L162.4,395.3 L163.4,396.0 L164.4,398.4 L165.3,396.4 L166.3,395.1 L167.2,396.0 L168.2,396.3 L169.1,397.4 L170.1,395.6 L171.1,397.7 L172.0,398.0 L173.0,397.6 L173.9,396.4 L174.9,396.3 L175.8,396.0 L176.8,394.7 L177.8,395.9 L178.7,395.4 L179.7,395.7 L180.6,395.5 L181.6,395.8 L182.5,395.6 L183.5,394.8 L184.5,392.4 L185.4,393.0 L186.4,392.9 L187.3,392.3 L188.3,391.3 L189.2,392.2 L190.2,393.9 L191.1,394.4 L192.1,398.7 L193.1,394.9 L194.0,394.5 L195.0,393.8 L195.9,392.1 L196.9,391.5 L197.8,391.3 L198.8,390.6 L199.8,388.7 L200.7,390.1 L201.7,388.8 L202.6,389.8 L203.6,389.5 L204.5,389.9 L205.5,388.9 L206.5,387.3 L207.4,387.3 L208.4,387.0 L209.3,385.5 L210.3,384.5 L211.2,383.2 L212.2,381.2 L213.2,382.9 L214.1,381.1 L215.1,380.3 L216.0,379.4 L217.0,380.0 L217.9,378.9 L218.9,378.0 L219.9,377.1 L220.8,377.0 L221.8,375.1 L222.7,376.6 L223.7,374.8 L224.6,373.7 L225.6,375.0 L226.6,372.0 L227.5,372.1 L228.5,371.4 L229.4,372.1 L230.4,371.7 L231.3,369.4 L232.3,368.9 L233.3,368.7 L234.2,367.9 L235.2,367.2 L236.1,366.3 L237.1,364.8 L238.0,364.2 L239.0,363.8 L240.0,363.6 L240.9,361.4 L241.9,361.6 L242.8,362.6 L243.8,361.2 L244.7,361.2 L245.7,360.0 L246.7,359.4 L247.6,359.0 L248.6,357.1 L249.5,356.4 L250.5,354.9 L251.4,356.4 L252.4,354.4 L253.4,352.3 L254.3,351.9 L255.3,351.2 L256.2,350.7 L257.2,349.3 L258.1,347.6 L259.1,348.2 L260.1,348.1 L261.0,345.7 L262.0,342.9 L262.9,341.5 L263.9,341.8 L264.8,340.8 L265.8,342.8 L266.8,339.0 L267.7,338.6 L268.7,338.5 L269.6,336.8 L270.6,335.0 L271.5,334.5 L272.5,334.9 L273.5,334.0 L274.4,333.3 L275.4,331.7 L276.3,330.1 L277.3,329.5 L278.2,328.4 L279.2,328.1 L280.2,326.5 L281.1,324.1 L282.1,322.7 L283.0,322.8 L284.0,321.0 L284.9,319.5 L285.9,319.4 L286.8,317.6 L287.8,316.7 L288.8,314.7 L289.7,314.4 L290.7,311.8 L291.6,309.6 L292.6,310.2 L293.5,308.6 L294.5,308.8 L294.5,329.9 L293.5,328.3 L292.6,330.3 L291.6,329.1 L290.7,330.9 L289.7,332.5 L288.8,333.1 L287.8,334.4 L286.8,335.0 L285.9,336.7 L284.9,336.9 L284.0,339.0 L283.0,338.7 L282.1,339.6 L281.1,341.5 L280.2,341.9 L279.2,344.7 L278.2,343.0 L277.3,344.0 L276.3,346.3 L275.4,345.5 L274.4,347.3 L273.5,348.4 L272.5,349.0 L271.5,347.6 L270.6,349.0 L269.6,349.2 L268.7,351.4 L267.7,350.9 L266.8,353.3 L265.8,354.3 L264.8,352.1 L263.9,353.0 L262.9,352.5 L262.0,355.1 L261.0,355.8 L260.1,358.6 L259.1,358.8 L258.1,358.8 L257.2,360.0 L256.2,359.9 L255.3,361.9 L254.3,360.9 L253.4,361.3 L252.4,364.7 L251.4,365.0 L250.5,364.9 L249.5,366.3 L248.6,365.4 L247.6,368.1 L246.7,367.9 L245.7,368.7 L244.7,368.5 L243.8,368.8 L242.8,370.1 L241.9,370.4 L240.9,369.7 L240.0,370.5 L239.0,370.8 L238.0,371.0 L237.1,372.1 L236.1,373.3 L235.2,373.5 L234.2,374.2 L233.3,375.3 L232.3,375.8 L231.3,375.7 L230.4,378.8 L229.4,379.0 L228.5,377.9 L227.5,378.0 L226.6,378.9 L225.6,380.4 L224.6,379.1 L223.7,379.8 L222.7,381.6 L221.8,381.7 L220.8,383.1 L219.9,383.6 L218.9,384.0 L217.9,384.3 L217.0,385.0 L216.0,385.1 L215.1,386.8 L214.1,387.0 L213.2,387.6 L212.2,386.6 L211.2,389.4 L210.3,388.9 L209.3,390.8 L208.4,391.5 L207.4,392.3 L206.5,392.4 L205.5,393.5 L204.5,395.8 L203.6,393.7 L202.6,394.5 L201.7,394.2 L200.7,396.4 L199.8,394.9 L198.8,394.8 L197.8,395.8 L196.9,395.6 L195.9,397.6 L195.0,399.0 L194.0,399.0 L193.1,400.3 L192.1,403.0 L191.1,400.2 L190.2,399.0 L189.2,396.7 L188.3,395.5 L187.3,396.8 L186.4,397.5 L185.4,398.0 L184.5,398.5 L183.5,400.3 L182.5,401.1 L181.6,400.9 L180.6,400.9 L179.7,401.2 L178.7,400.6 L177.8,400.5 L176.8,399.8 L175.8,402.5 L174.9,400.8 L173.9,401.2 L173.0,402.5 L172.0,402.7 L171.1,402.4 L170.1,401.5 L169.1,403.0 L168.2,401.4 L167.2,400.6 L166.3,400.0 L165.3,401.8 L164.4,402.8 L163.4,402.5 L162.4,400.3 L161.5,400.7 L160.5,400.1 L159.6,399.1 L158.6,400.3 L157.7,399.8 L156.7,400.7 L155.7,400.0 L154.8,398.8 L153.8,401.0 L152.9,399.7 L151.9,400.7 L151.0,399.3 L150.0,399.8 L149.0,398.9 L148.1,399.0 L147.1,399.8 L146.2,400.4 L145.2,399.7 L144.3,399.1 L143.3,400.6 L142.3,400.1 L141.4,399.7 L140.4,399.1 L139.5,399.5 L138.5,401.0 L137.6,400.6 L136.6,400.4 L135.6,399.0 L134.7,400.2 L133.7,399.8 L132.8,400.7 L131.8,400.6 L130.9,399.3 L129.9,399.2 L128.9,401.1 L128.0,400.5 L127.0,399.6 L126.1,399.4 L125.1,401.2 L124.2,400.6 L123.2,401.6 L122.2,400.5 L121.3,401.4 L120.3,400.5 L119.4,401.5 L118.4,401.7 L117.5,402.2 L116.5,403.6 L115.5,404.4 L114.6,404.0 L113.6,401.6 L112.7,403.1 L111.7,401.8 L110.8,404.0 L109.8,403.0 L108.8,403.1 L107.9,404.5 L106.9,406.0 L106.0,403.7 L105.0,400.7 L104.1,401.6 L103.1,401.8 L102.1,401.6 L101.2,402.5 L100.2,401.8 L99.3,401.9 L98.3,403.0 L97.4,402.1 L96.4,402.9 L95.4,404.1 L94.5,404.3 L93.5,403.8 L92.6,404.5 L91.6,403.8 L90.7,406.0 L89.7,405.7 L88.8,406.8 L87.8,404.8 L86.8,401.2 L85.9,401.3 L84.9,400.7 L84.0,400.2 L83.0,401.2 L82.1,402.3 L81.1,400.4 L80.1,402.0 L79.2,403.2 L78.2,401.5 L77.3,402.5 L76.3,402.1 L75.4,402.5 L74.4,401.3 L73.4,402.1 L72.5,401.1 L71.5,402.6 L70.6,401.3 L69.6,402.2 L68.7,402.4 L67.7,402.9 L66.7,402.3 L65.8,400.6 L64.8,402.5 L63.9,401.7 L62.9,401.1 L62.0,402.8 L61.0,401.5 L60.0,402.3 L59.1,401.0 L58.1,403.1 L57.2,401.8 L56.2,402.0 L55.3,401.5Z" fill="rgb(0,112,224)" fill-opacity="0.16"/>
<polyline points="55.3,392.8 56.2,393.0 57.2,392.4 58.1,391.7 59.1,393.4 60.0,392.7 61.0,394.0 62.0,393.3 62.9,393.3 63.9,394.9 64.8,394.6 65.8,397.3 66.7,398.4 67.7,395.3 68.7,393.5 69.6,394.3 70.6,395.0 71.5,392.0 72.5,395.5 73.4,392.6 74.4,393.3 75.4,394.3 76.3,392.8 77.3,394.3 78.2,392.2 79.2,392.7 80.1,394.3 81.1,392.5 82.1,396.6 83.0,393.5 84.0,392.5 84.9,395.2 85.9,393.8 86.8,393.8 87.8,398.2 88.8,401.1 89.7,401.4 90.7,397.6 91.6,397.2 92.6,398.2 93.5,399.6 94.5,400.0 95.4,398.3 96.4,396.9 97.4,397.0 98.3,395.0 99.3,395.4 100.2,394.4 101.2,393.6 102.1,392.9 103.1,393.4 104.1,391.2 105.0,394.8 106.0,400.2 106.9,405.9 107.9,401.8 108.8,398.6 109.8,398.6 110.8,399.0 111.7,397.8 112.7,397.0 113.6,395.9 114.6,401.4 115.5,401.0 116.5,398.9 117.5,396.7 118.4,394.8 119.4,397.1 120.3,395.4 121.3,393.4 122.2,395.4 123.2,393.8 124.2,393.6 125.1,393.8 126.1,396.0 127.0,394.6 128.0,394.6 128.9,395.4 129.9,395.9 130.9,394.8 131.8,394.4 132.8,393.1 133.7,394.2 134.7,395.9 135.6,395.5 136.6,394.6 137.6,395.8 138.5,394.7 139.5,394.9 140.4,394.7 141.4,394.4 142.3,395.2 143.3,394.3 144.3,393.0 145.2,393.5 146.2,392.5 147.1,392.0 148.1,394.2 149.0,393.3 150.0,393.1 151.0,391.0 151.9,393.3 152.9,393.6 153.8,393.0 154.8,391.4 155.7,393.3 156.7,394.6 157.7,394.4 158.6,393.7 159.6,394.6 160.5,395.8 161.5,393.9 162.4,398.1 163.4,400.7 164.4,402.7 165.3,402.4 166.3,400.2 167.2,399.5 168.2,399.8 169.1,401.1 170.1,400.8 171.1,401.3 172.0,401.9 173.0,403.3 173.9,401.8 174.9,401.5 175.8,400.8 176.8,401.9 177.8,401.2 178.7,402.7 179.7,399.6 180.6,400.6 181.6,401.9 182.5,404.7 183.5,404.7 184.5,399.3 185.4,399.5 186.4,400.3 187.3,398.3 188.3,396.1 189.2,395.8 190.2,397.6 191.1,401.4 192.1,402.3 193.1,401.2 194.0,396.6 195.0,396.0 195.9,392.1 196.9,391.5 197.8,391.9 198.8,390.7 199.8,391.7 200.7,390.7 201.7,388.9 202.6,390.0 203.6,389.9 204.5,391.0 205.5,389.2 206.5,389.1 207.4,390.4 208.4,390.3 209.3,388.5 210.3,385.2 211.2,384.2 212.2,384.1 213.2,381.5 214.1,379.5 215.1,379.5 216.0,379.1 217.0,377.2 217.9,375.8 218.9,375.2 219.9,376.4 220.8,374.4 221.8,374.3 222.7,373.9 223.7,373.5 224.6,371.9 225.6,372.0 226.6,370.0 227.5,369.8 228.5,368.4 229.4,369.4 230.4,367.2 231.3,365.4 232.3,364.5 233.3,363.4 234.2,363.2 235.2,360.2 236.1,359.7 237.1,359.3 238.0,361.0 239.0,358.7 240.0,357.1 240.9,357.1 241.9,357.6 242.8,354.8 243.8,353.7 244.7,353.9 245.7,351.9 246.7,350.8 247.6,349.3 248.6,351.5 249.5,351.1 250.5,348.5 251.4,347.0 252.4,342.9 253.4,344.0 254.3,342.3 255.3,341.9 256.2,341.2 257.2,339.3 258.1,337.1 259.1,337.9 260.1,335.9 261.0,335.3 262.0,334.1 262.9,331.0 263.9,332.3 264.8,334.2 265.8,331.7 266.8,331.2 267.7,330.7 268.7,327.4 269.6,324.2 270.6,324.2 271.5,323.2 272.5,322.5 273.5,321.4 274.4,318.2 275.4,319.0 276.3,316.5 277.3,317.5 278.2,316.1 279.2,314.6 280.2,313.8 281.1,312.4 282.1,312.4 283.0,311.8 284.0,310.4 284.9,310.2 285.9,308.7 286.8,308.2 287.8,308.3 288.8,305.7 289.7,305.4 290.7,301.7 291.6,299.0 292.6,295.6 293.5,296.9 294.5,297.3" fill="none" stroke="#D95319" stroke-width="1.5" stroke-linejoin="round"/>
<polyline points="55.3,399.5 56.2,399.5 57.2,399.2 58.1,399.7 59.1,398.7 60.0,399.4 61.0,399.2 62.0,399.7 62.9,398.7 63.9,399.1 64.8,399.7 65.8,398.5 66.7,399.4 67.7,400.6 68.7,399.8 69.6,400.0 70.6,399.2 71.5,399.7 72.5,398.5 73.4,398.9 74.4,398.9 75.4,399.8 76.3,399.8 77.3,399.7 78.2,399.0 79.2,400.4 80.1,399.3 81.1,397.5 82.1,398.6 83.0,398.4 84.0,397.7 84.9,398.4 85.9,398.1 86.8,398.2 87.8,401.8 88.8,404.5 89.7,403.5 90.7,402.2 91.6,401.2 92.6,401.5 93.5,401.0 94.5,401.8 95.4,402.0 96.4,399.7 97.4,398.7 98.3,400.3 99.3,399.7 100.2,399.7 101.2,399.4 102.1,399.2 103.1,399.0 104.1,399.0 105.0,397.8 106.0,401.0 106.9,403.8 107.9,401.0 108.8,400.8 109.8,400.9 110.8,400.2 111.7,399.5 112.7,400.5 113.6,399.0 114.6,401.0 115.5,401.5 116.5,400.7 117.5,399.8 118.4,399.2 119.4,399.3 120.3,398.5 121.3,398.6 122.2,398.0 123.2,397.9 124.2,398.2 125.1,398.9 126.1,397.2 127.0,397.4 128.0,397.6 128.9,398.6 129.9,397.1 130.9,396.8 131.8,397.5 132.8,397.7 133.7,397.5 134.7,397.4 135.6,396.9 136.6,397.5 137.6,397.8 138.5,397.8 139.5,397.3 140.4,396.2 141.4,396.9 142.3,397.8 143.3,397.7 144.3,397.0 145.2,396.7 146.2,397.7 147.1,397.2 148.1,396.6 149.0,396.6 150.0,397.6 151.0,397.1 151.9,397.9 152.9,397.3 153.8,397.6 154.8,396.7 155.7,397.3 156.7,398.7 157.7,397.6 158.6,396.7 159.6,396.9 160.5,397.1 161.5,398.2 162.4,398.0 163.4,398.7 164.4,400.7 165.3,399.1 166.3,397.2 167.2,398.4 168.2,398.9 169.1,399.5 170.1,399.0 171.1,400.0 172.0,400.5 173.0,399.7 173.9,399.1 174.9,398.6 175.8,398.7 176.8,397.4 177.8,398.0 178.7,398.3 179.7,398.1 180.6,397.7 181.6,398.7 182.5,398.3 183.5,397.2 184.5,396.1 185.4,395.3 186.4,395.3 187.3,394.8 188.3,393.4 189.2,394.7 190.2,396.1 191.1,398.1 192.1,400.8 193.1,398.1 194.0,396.7 195.0,396.3 195.9,395.2 196.9,393.6 197.8,393.4 198.8,392.8 199.8,392.4 200.7,392.8 201.7,391.1 202.6,392.2 203.6,391.7 204.5,392.1 205.5,391.2 206.5,390.3 207.4,390.1 208.4,389.2 209.3,387.6 210.3,386.8 211.2,385.6 212.2,383.9 213.2,385.0 214.1,384.1 215.1,383.2 216.0,382.7 217.0,382.8 217.9,381.4 218.9,380.8 219.9,380.5 220.8,380.6 221.8,378.4 222.7,379.2 223.7,377.4 224.6,376.5 225.6,377.4 226.6,376.1 227.5,374.9 228.5,375.0 229.4,375.2 230.4,374.6 231.3,373.0 232.3,372.7 233.3,372.2 234.2,370.7 235.2,370.5 236.1,369.6 237.1,368.6 238.0,367.9 239.0,367.6 240.0,367.1 240.9,366.3 241.9,365.9 242.8,366.3 243.8,365.2 244.7,364.9 245.7,364.4 246.7,363.3 247.6,363.6 248.6,361.0 249.5,361.3 250.5,359.9 251.4,360.4 252.4,359.6 253.4,356.6 254.3,356.3 255.3,356.3 256.2,355.4 257.2,354.4 258.1,353.3 259.1,353.4 260.1,353.2 261.0,350.9 262.0,349.6 262.9,346.7 263.9,347.5 264.8,346.7 265.8,348.3 266.8,346.4 267.7,344.7 268.7,344.8 269.6,343.4 270.6,342.5 271.5,341.1 272.5,341.3 273.5,341.0 274.4,340.5 275.4,338.8 276.3,338.6 277.3,337.0 278.2,336.0 279.2,335.4 280.2,334.6 281.1,332.4 282.1,331.5 283.0,331.0 284.0,330.2 284.9,328.3 285.9,328.3 286.8,326.5 287.8,325.9 288.8,323.9 289.7,323.2 290.7,321.7 291.6,319.7 292.6,320.1 293.5,318.4 294.5,320.0" fill="none" stroke="#0072BD" stroke-width="1.5" stroke-linejoin="round"/>
<path d="M49.6,269.4 V422.1 H300.4" fill="none" stroke="#222" stroke-width="1.2"/>
<line x1="46.2" y1="269.4" x2="49.6" y2="269.4" stroke="#222" stroke-width="1"/>
<text transform="translate(42.60,274.12) scale(0.96,1)" font-size="12.5" fill="#000" text-anchor="end" >8</text>
<line x1="46.2" y1="299.9" x2="49.6" y2="299.9" stroke="#222" stroke-width="1"/>
<text transform="translate(42.60,304.64) scale(0.96,1)" font-size="12.5" fill="#000" text-anchor="end" >6</text>
<line x1="46.2" y1="330.5" x2="49.6" y2="330.5" stroke="#222" stroke-width="1"/>
<text transform="translate(42.60,335.16) scale(0.96,1)" font-size="12.5" fill="#000" text-anchor="end" >4</text>
<line x1="46.2" y1="361.0" x2="49.6" y2="361.0" stroke="#222" stroke-width="1"/>
<text transform="translate(42.60,365.68) scale(0.96,1)" font-size="12.5" fill="#000" text-anchor="end" >2</text>
<line x1="46.2" y1="391.5" x2="49.6" y2="391.5" stroke="#222" stroke-width="1"/>
<text transform="translate(42.60,396.20) scale(0.96,1)" font-size="12.5" fill="#000" text-anchor="end" >0</text>
<line x1="46.2" y1="422.0" x2="49.6" y2="422.0" stroke="#222" stroke-width="1"/>
<text transform="translate(42.60,426.72) scale(0.96,1)" font-size="12.5" fill="#000" text-anchor="end" >−2</text>
<line x1="55.5" y1="422.1" x2="55.5" y2="426.1" stroke="#222" stroke-width="1"/>
<text x="56.1" y="437.4" font-size="12.5" fill="#000" text-anchor="middle" textLength="26.00" lengthAdjust="spacingAndGlyphs" >1850</text>
<line x1="103.3" y1="422.1" x2="103.3" y2="426.1" stroke="#222" stroke-width="1"/>
<text x="103.9" y="437.4" font-size="12.5" fill="#000" text-anchor="middle" textLength="26.00" lengthAdjust="spacingAndGlyphs" >1900</text>
<line x1="151.2" y1="422.1" x2="151.2" y2="426.1" stroke="#222" stroke-width="1"/>
<text x="151.8" y="437.4" font-size="12.5" fill="#000" text-anchor="middle" textLength="26.00" lengthAdjust="spacingAndGlyphs" >1950</text>
<line x1="199.0" y1="422.1" x2="199.0" y2="426.1" stroke="#222" stroke-width="1"/>
<text x="199.6" y="437.4" font-size="12.5" fill="#000" text-anchor="middle" textLength="26.00" lengthAdjust="spacingAndGlyphs" >2000</text>
<line x1="246.9" y1="422.1" x2="246.9" y2="426.1" stroke="#222" stroke-width="1"/>
<text x="247.5" y="437.4" font-size="12.5" fill="#000" text-anchor="middle" textLength="26.00" lengthAdjust="spacingAndGlyphs" >2050</text>
<line x1="294.8" y1="422.1" x2="294.8" y2="426.1" stroke="#222" stroke-width="1"/>
<text x="295.4" y="437.4" font-size="12.5" fill="#000" text-anchor="middle" textLength="26.00" lengthAdjust="spacingAndGlyphs" >2100</text>
<text transform="translate(50.02,261.60) scale(0.86,1)" font-size="15.8" fill="#000" textLength="15.60" lengthAdjust="spacing">c.</text>
<text transform="translate(72.38,261.60) scale(0.86,1)" font-size="15.8" fill="#000" textLength="29.22" lengthAdjust="spacing">SAT</text>
<text transform="translate(107.62,261.60) scale(0.86,1)" font-size="15.8" fill="#000" textLength="70.59" lengthAdjust="spacing">anomaly</text>
<text transform="translate(178.39,261.60) scale(0.86,1)" font-size="15.8" fill="#000" textLength="14.76" lengthAdjust="spacing">in</text>
<text transform="translate(200.51,261.60) scale(0.86,1)" font-size="15.8" fill="#000" textLength="52.43" lengthAdjust="spacing">CMIP6</text>
<text transform="translate(160.40,454.80) scale(0.9,1)" font-size="13" fill="#000" textLength="30.67" lengthAdjust="spacing" >Year</text>
<text transform="translate(11.20,404.20) rotate(-90) scale(0.9,1)" font-size="13.5" fill="#000" textLength="128.89" lengthAdjust="spacing" >SAT anomaly (°C)</text>
<line x1="63.7" y1="283.5" x2="83.6" y2="283.5" stroke="#D95319" stroke-width="1.4"/>
<line x1="63.7" y1="302.7" x2="83.6" y2="302.7" stroke="#0072BD" stroke-width="1.4"/>
<text transform="translate(88.35,288.70) scale(0.88,1)" font-size="12.8" fill="#D95319" textLength="60.89" lengthAdjust="spacing">TD−North</text>
<text transform="translate(88.35,307.60) scale(0.88,1)" font-size="12.8" fill="#0072BD" textLength="62.94" lengthAdjust="spacing">TD−South</text>
<text transform="translate(230.29,293.30) scale(0.88,1)" font-size="12.8" fill="#6e6e6e" textLength="50.44" lengthAdjust="spacing">SSP585</text>
<text x="105.6" y="374.7" font-size="12" fill="#000" textLength="52.40" lengthAdjust="spacing" stroke="#000" stroke-width="0.4">Historical</text>
<path d="M432.1,377.2 L432.6,377.6 L433.1,377.3 L433.6,375.3 L434.1,374.8 L434.6,373.3 L435.1,375.4 L435.6,375.0 L436.1,374.1 L436.6,372.1 L437.1,372.6 L437.6,374.1 L438.1,374.4 L438.6,372.8 L439.1,373.4 L439.6,371.4 L440.1,371.4 L440.6,370.9 L441.1,370.3 L441.6,367.6 L442.1,368.8 L442.6,368.1 L443.1,364.9 L443.6,363.6 L444.1,363.8 L444.6,361.6 L445.1,358.7 L445.6,360.2 L446.1,358.3 L446.6,356.4 L447.1,356.7 L447.6,353.0 L448.1,350.2 L448.6,348.9 L449.1,347.0 L449.6,346.5 L450.1,346.8 L450.6,345.2 L451.1,344.9 L451.6,346.6 L452.1,345.6 L452.6,345.3 L453.1,345.3 L453.6,345.7 L454.1,347.1 L454.6,346.3 L455.1,348.9 L455.6,347.9 L456.1,350.0 L456.6,350.5 L457.1,352.6 L457.6,353.9 L458.1,355.2 L458.6,353.8 L459.1,354.9 L459.6,355.1 L460.1,355.2 L460.6,354.5 L461.1,355.4 L461.6,353.5 L462.1,354.9 L462.6,355.3 L463.1,355.2 L463.6,355.4 L464.1,355.6 L464.6,358.8 L465.1,356.2 L465.6,359.0 L466.1,358.4 L466.6,356.9 L467.1,355.2 L467.6,356.2 L468.1,355.8 L468.6,352.4 L469.1,351.9 L469.6,352.2 L470.1,350.5 L470.6,351.1 L471.1,348.1 L471.6,348.3 L472.1,345.9 L472.6,348.3 L473.1,345.2 L473.6,343.4 L474.1,344.8 L474.6,344.2 L475.1,345.3 L475.6,342.6 L476.1,342.1 L476.6,341.9 L477.1,342.0 L477.6,339.8 L478.1,340.0 L478.6,338.8 L479.1,338.5 L479.6,339.3 L480.1,339.7 L480.6,339.4 L481.1,341.8 L481.6,340.0 L482.1,342.8 L482.6,343.1 L483.1,342.8 L483.6,342.9 L484.1,344.2 L484.6,345.6 L485.1,346.1 L485.6,345.4 L486.1,345.8 L486.6,344.1 L487.1,344.8 L487.6,343.4 L488.1,345.8 L488.6,345.5 L489.1,345.0 L489.6,346.0 L490.1,345.0 L490.6,341.4 L491.1,343.5 L491.6,342.4 L492.1,344.9 L492.6,346.5 L493.1,344.0 L493.6,345.0 L494.1,345.2 L494.6,346.3 L495.1,347.0 L495.6,348.1 L496.1,346.6 L496.6,349.4 L497.1,347.6 L497.6,349.0 L498.1,350.1 L498.6,349.9 L499.1,348.7 L499.6,348.9 L500.1,348.7 L500.6,348.8 L501.1,349.5 L501.6,347.0 L502.1,348.2 L502.6,348.0 L503.1,347.4 L503.6,346.9 L504.1,347.3 L504.6,345.9 L505.1,345.9 L505.6,345.3 L506.1,346.1 L506.6,343.7 L507.1,347.6 L507.6,347.3 L508.1,348.3 L508.6,348.7 L509.1,348.9 L509.6,351.2 L510.1,352.1 L510.6,354.4 L511.1,353.9 L511.6,357.8 L512.1,357.1 L512.6,356.7 L513.1,356.3 L513.6,356.2 L514.1,355.9 L514.6,356.4 L515.1,356.7 L515.6,356.1 L516.1,354.6 L516.6,355.3 L517.1,354.3 L517.6,354.8 L518.1,356.0 L518.6,354.4 L519.1,353.1 L519.6,351.5 L520.1,351.2 L520.6,350.4 L521.1,352.1 L521.6,350.2 L522.1,350.5 L522.6,349.4 L523.1,349.9 L523.6,351.2 L524.1,349.5 L524.6,350.0 L525.1,349.7 L525.6,351.4 L526.1,349.9 L526.6,350.0 L527.1,349.4 L527.6,348.9 L528.1,350.1 L528.6,351.5 L529.1,347.8 L529.6,349.0 L530.1,347.9 L530.6,346.2 L531.1,346.7 L531.6,346.6 L532.1,346.0 L532.6,348.2 L533.1,344.6 L533.6,346.5 L534.1,346.2 L534.6,345.3 L535.1,346.3 L535.6,347.3 L536.1,346.9 L536.6,347.5 L537.1,348.1 L537.6,346.0 L538.1,349.5 L538.6,350.5 L539.1,349.9 L539.6,350.4 L540.1,348.7 L540.6,350.4 L541.1,350.3 L541.6,351.0 L542.1,352.9 L542.6,351.7 L543.1,352.7 L543.6,351.4 L544.1,353.3 L544.6,353.9 L545.1,353.5 L545.6,353.8 L546.1,356.5 L546.6,353.6 L547.1,353.3 L547.6,353.0 L548.1,354.3 L548.6,354.6 L549.1,352.5 L549.6,351.1 L550.1,350.8 L550.6,351.8 L551.1,349.7 L551.6,351.5 L552.1,351.1 L552.6,349.5 L553.1,349.7 L553.6,349.5 L554.1,349.9 L554.6,347.3 L555.1,349.2 L555.6,347.6 L556.1,347.1 L556.6,347.7 L557.1,347.2 L557.6,346.4 L558.1,345.7 L558.6,345.9 L559.1,347.8 L559.6,347.9 L560.1,346.4 L560.6,346.5 L561.1,344.7 L561.6,344.7 L562.1,344.7 L562.6,343.7 L563.1,343.9 L563.6,345.1 L564.1,344.9 L564.6,344.4 L565.1,345.8 L565.6,345.4 L566.1,346.6 L566.6,345.4 L567.1,344.8 L567.6,344.8 L568.1,344.2 L568.6,343.4 L569.1,343.3 L569.6,344.1 L570.1,343.6 L570.6,343.6 L571.1,340.5 L571.6,341.1 L572.1,340.6 L572.6,340.6 L573.1,339.6 L573.6,339.0 L574.1,339.5 L574.6,338.1 L575.1,336.1 L575.6,337.5 L576.1,336.4 L576.6,334.1 L577.1,334.5 L577.6,332.3 L578.1,334.2 L578.6,333.8 L579.1,334.0 L579.6,335.1 L580.1,335.5 L580.6,336.3 L581.1,335.3 L581.6,334.2 L582.1,332.7 L582.6,328.9 L583.1,331.3 L583.6,328.8 L584.1,330.0 L584.6,330.0 L585.1,328.5 L585.6,327.1 L586.1,326.1 L586.6,324.9 L587.1,323.2 L587.6,322.0 L588.1,320.4 L588.6,321.1 L589.1,318.7 L589.6,318.3 L590.1,316.0 L590.6,315.1 L591.1,314.1 L591.6,314.4 L592.1,314.5 L592.6,313.7 L593.1,312.7 L593.6,312.3 L594.1,314.3 L594.6,312.3 L595.1,312.0 L595.6,313.3 L596.1,312.7 L596.6,312.0 L597.1,310.9 L597.6,313.1 L598.1,311.1 L598.6,311.0 L599.1,310.7 L599.6,310.1 L600.1,310.7 L600.6,312.7 L601.1,313.2 L601.6,313.1 L602.1,312.5 L602.6,312.6 L603.1,313.9 L603.1,362.0 L602.6,358.4 L602.1,360.0 L601.6,358.7 L601.1,359.7 L600.6,359.6 L600.1,358.5 L599.6,358.7 L599.1,356.9 L598.6,356.7 L598.1,356.9 L597.6,357.4 L597.1,357.3 L596.6,357.6 L596.1,358.8 L595.6,359.0 L595.1,360.0 L594.6,360.5 L594.1,362.6 L593.6,363.3 L593.1,366.7 L592.6,366.1 L592.1,366.6 L591.6,368.9 L591.1,369.1 L590.6,370.3 L590.1,373.3 L589.6,372.9 L589.1,376.4 L588.6,378.2 L588.1,379.8 L587.6,381.2 L587.1,383.1 L586.6,387.8 L586.1,388.5 L585.6,389.2 L585.1,393.1 L584.6,395.1 L584.1,397.8 L583.6,399.4 L583.1,398.1 L582.6,396.1 L582.1,394.8 L581.6,390.6 L581.1,389.4 L580.6,387.5 L580.1,385.7 L579.6,384.6 L579.1,382.5 L578.6,380.5 L578.1,381.5 L577.6,384.2 L577.1,384.0 L576.6,386.0 L576.1,385.6 L575.6,386.4 L575.1,386.7 L574.6,389.4 L574.1,386.4 L573.6,387.6 L573.1,389.8 L572.6,388.9 L572.1,391.0 L571.6,393.0 L571.1,392.2 L570.6,393.0 L570.1,392.4 L569.6,393.7 L569.1,396.8 L568.6,397.1 L568.1,398.2 L567.6,398.8 L567.1,398.7 L566.6,401.9 L566.1,402.6 L565.6,404.5 L565.1,406.2 L564.6,406.2 L564.1,406.8 L563.6,406.8 L563.1,405.4 L562.6,407.0 L562.1,406.1 L561.6,406.0 L561.1,404.8 L560.6,405.3 L560.1,405.7 L559.6,405.2 L559.1,402.9 L558.6,403.1 L558.1,404.0 L557.6,403.1 L557.1,402.4 L556.6,401.2 L556.1,402.6 L555.6,402.2 L555.1,401.5 L554.6,399.6 L554.1,402.3 L553.6,399.3 L553.1,398.6 L552.6,399.3 L552.1,399.7 L551.6,398.3 L551.1,398.5 L550.6,398.7 L550.1,397.0 L549.6,398.7 L549.1,399.5 L548.6,398.4 L548.1,398.2 L547.6,399.9 L547.1,399.1 L546.6,400.9 L546.1,400.4 L545.6,400.4 L545.1,400.6 L544.6,400.9 L544.1,397.5 L543.6,400.1 L543.1,400.1 L542.6,401.9 L542.1,399.2 L541.6,399.8 L541.1,401.1 L540.6,398.5 L540.1,398.4 L539.6,397.3 L539.1,396.2 L538.6,397.1 L538.1,394.9 L537.6,395.9 L537.1,395.5 L536.6,393.4 L536.1,392.7 L535.6,391.9 L535.1,392.2 L534.6,391.3 L534.1,391.6 L533.6,393.3 L533.1,392.0 L532.6,393.5 L532.1,394.1 L531.6,392.8 L531.1,393.8 L530.6,394.9 L530.1,394.1 L529.6,395.4 L529.1,394.5 L528.6,396.3 L528.1,397.2 L527.6,398.2 L527.1,396.9 L526.6,398.5 L526.1,397.8 L525.6,399.8 L525.1,400.2 L524.6,399.8 L524.1,401.8 L523.6,401.3 L523.1,401.3 L522.6,401.7 L522.1,401.3 L521.6,401.4 L521.1,403.5 L520.6,403.0 L520.1,403.5 L519.6,406.0 L519.1,402.9 L518.6,404.0 L518.1,404.7 L517.6,403.1 L517.1,403.7 L516.6,403.8 L516.1,402.2 L515.6,402.4 L515.1,403.7 L514.6,400.6 L514.1,401.7 L513.6,398.4 L513.1,401.1 L512.6,399.4 L512.1,396.5 L511.6,397.3 L511.1,396.7 L510.6,396.4 L510.1,393.7 L509.6,394.1 L509.1,396.0 L508.6,393.2 L508.1,393.3 L507.6,390.6 L507.1,392.0 L506.6,392.9 L506.1,389.8 L505.6,389.9 L505.1,388.7 L504.6,389.6 L504.1,390.5 L503.6,387.2 L503.1,389.1 L502.6,390.5 L502.1,389.8 L501.6,390.7 L501.1,390.5 L500.6,391.3 L500.1,391.6 L499.6,391.4 L499.1,390.7 L498.6,390.1 L498.1,389.6 L497.6,389.4 L497.1,387.4 L496.6,388.2 L496.1,387.4 L495.6,387.1 L495.1,386.8 L494.6,387.7 L494.1,386.4 L493.6,386.9 L493.1,386.3 L492.6,385.4 L492.1,383.6 L491.6,384.9 L491.1,383.8 L490.6,383.8 L490.1,381.9 L489.6,381.0 L489.1,381.7 L488.6,380.9 L488.1,380.7 L487.6,380.7 L487.1,380.4 L486.6,381.8 L486.1,381.1 L485.6,381.2 L485.1,382.0 L484.6,380.3 L484.1,383.3 L483.6,383.5 L483.1,382.5 L482.6,383.7 L482.1,384.1 L481.6,382.1 L481.1,382.8 L480.6,382.1 L480.1,379.5 L479.6,380.2 L479.1,379.4 L478.6,381.1 L478.1,382.5 L477.6,383.1 L477.1,383.7 L476.6,384.5 L476.1,384.9 L475.6,386.8 L475.1,387.1 L474.6,386.3 L474.1,386.2 L473.6,385.1 L473.1,386.0 L472.6,387.9 L472.1,387.6 L471.6,387.5 L471.1,387.7 L470.6,390.3 L470.1,391.4 L469.6,393.5 L469.1,395.4 L468.6,397.9 L468.1,401.4 L467.6,405.9 L467.1,405.7 L466.6,406.0 L466.1,403.1 L465.6,405.2 L465.1,404.7 L464.6,403.8 L464.1,406.0 L463.6,403.9 L463.1,402.4 L462.6,402.5 L462.1,402.7 L461.6,402.2 L461.1,400.8 L460.6,401.0 L460.1,401.1 L459.6,401.3 L459.1,400.4 L458.6,399.1 L458.1,399.4 L457.6,398.1 L457.1,398.2 L456.6,396.9 L456.1,397.2 L455.6,394.9 L455.1,394.7 L454.6,394.5 L454.1,393.6 L453.6,392.4 L453.1,393.8 L452.6,393.7 L452.1,391.9 L451.6,393.5 L451.1,391.2 L450.6,392.0 L450.1,392.5 L449.6,391.9 L449.1,393.6 L448.6,393.1 L448.1,394.1 L447.6,394.6 L447.1,395.7 L446.6,397.0 L446.1,397.1 L445.6,399.3 L445.1,400.0 L444.6,401.6 L444.1,402.6 L443.6,404.3 L443.1,404.3 L442.6,407.2 L442.1,408.9 L441.6,410.3 L441.1,408.8 L440.6,410.8 L440.1,411.0 L439.6,413.6 L439.1,413.2 L438.6,413.1 L438.1,413.8 L437.6,414.1 L437.1,414.9 L436.6,414.5 L436.1,414.8 L435.6,412.9 L435.1,415.9 L434.6,416.8 L434.1,418.8 L433.6,421.3 L433.1,420.6 L432.6,421.1 L432.1,419.7Z" fill="#d6e8fa"/>
<path d="M601.5,318.2 L602.0,317.2 L602.5,316.5 L603.0,318.2 L603.5,316.4 L604.0,317.6 L604.5,319.5 L605.0,319.4 L605.5,319.3 L606.0,321.1 L606.5,319.9 L607.0,321.4 L607.5,321.0 L608.0,320.9 L608.5,322.3 L609.0,321.3 L609.5,324.1 L610.0,322.1 L610.5,324.7 L611.0,322.2 L611.5,323.9 L612.0,322.5 L612.5,322.2 L613.0,323.3 L613.5,323.5 L614.0,321.5 L614.5,323.4 L615.0,320.6 L615.5,320.2 L616.0,319.1 L616.5,318.1 L617.0,314.7 L617.5,316.6 L618.0,314.7 L618.5,312.8 L619.0,311.3 L619.5,309.7 L620.0,309.2 L620.5,310.7 L621.0,309.7 L621.5,308.7 L622.0,309.0 L622.5,310.7 L623.0,308.9 L623.5,308.7 L624.0,310.5 L624.5,309.7 L625.0,309.3 L625.5,308.2 L626.0,306.9 L626.5,306.7 L627.0,306.9 L627.5,306.6 L628.0,306.3 L628.5,305.5 L629.0,304.2 L629.5,303.2 L630.0,301.1 L630.5,299.5 L631.0,300.9 L631.5,300.5 L632.0,300.8 L632.5,301.2 L633.0,300.4 L633.5,301.0 L634.0,302.4 L634.5,303.1 L635.0,302.9 L635.5,304.4 L636.0,303.1 L636.5,301.6 L637.0,301.8 L637.5,302.7 L638.0,299.7 L638.5,301.0 L639.0,300.9 L639.5,300.8 L640.0,298.4 L640.5,300.7 L641.0,299.4 L641.5,300.1 L642.0,301.1 L642.5,302.8 L643.0,303.3 L643.5,304.0 L644.0,305.8 L644.5,304.5 L645.0,304.7 L645.5,306.9 L646.0,307.2 L646.5,307.1 L647.0,304.6 L647.5,306.1 L648.0,305.0 L648.5,305.7 L649.0,302.3 L649.5,302.9 L650.0,301.7 L650.5,299.7 L651.0,299.8 L651.5,300.4 L652.0,297.7 L652.5,296.2 L653.0,296.4 L653.5,295.3 L654.0,293.8 L654.5,290.2 L655.0,288.8 L655.5,287.8 L656.0,284.3 L656.5,282.4 L657.0,283.6 L657.5,284.0 L658.0,281.3 L658.5,279.7 L659.0,280.5 L659.5,281.5 L660.0,283.1 L660.5,284.5 L661.0,284.5 L661.5,284.8 L662.0,286.2 L662.5,285.7 L663.0,287.0 L663.5,286.9 L664.0,290.4 L664.5,288.7 L665.0,286.5 L665.5,285.6 L666.0,285.4 L666.5,283.5 L667.0,283.6 L667.5,282.8 L668.0,283.6 L668.5,281.6 L669.0,280.5 L669.5,279.3 L670.0,279.4 L670.5,280.4 L671.0,280.3 L671.5,281.5 L671.5,323.1 L671.0,322.5 L670.5,321.7 L670.0,316.8 L669.5,314.7 L669.0,316.7 L668.5,317.7 L668.0,317.8 L667.5,318.8 L667.0,317.1 L666.5,320.0 L666.0,320.6 L665.5,320.3 L665.0,321.4 L664.5,322.6 L664.0,323.0 L663.5,324.6 L663.0,323.0 L662.5,323.6 L662.0,323.8 L661.5,322.2 L661.0,323.2 L660.5,321.5 L660.0,322.8 L659.5,322.5 L659.0,323.1 L658.5,322.5 L658.0,323.4 L657.5,323.6 L657.0,326.2 L656.5,324.4 L656.0,327.2 L655.5,328.8 L655.0,330.2 L654.5,333.2 L654.0,333.4 L653.5,335.2 L653.0,337.4 L652.5,336.8 L652.0,337.9 L651.5,340.8 L651.0,342.6 L650.5,342.8 L650.0,344.6 L649.5,345.6 L649.0,347.5 L648.5,349.8 L648.0,351.3 L647.5,351.0 L647.0,351.4 L646.5,350.6 L646.0,351.9 L645.5,351.5 L645.0,352.2 L644.5,350.9 L644.0,351.3 L643.5,349.3 L643.0,349.4 L642.5,346.1 L642.0,345.1 L641.5,342.7 L641.0,340.8 L640.5,340.2 L640.0,338.2 L639.5,339.1 L639.0,339.1 L638.5,336.1 L638.0,337.0 L637.5,337.0 L637.0,336.8 L636.5,339.2 L636.0,338.6 L635.5,338.3 L635.0,339.6 L634.5,337.5 L634.0,338.1 L633.5,337.1 L633.0,337.6 L632.5,337.9 L632.0,337.6 L631.5,333.7 L631.0,338.1 L630.5,334.0 L630.0,336.6 L629.5,336.3 L629.0,335.5 L628.5,340.4 L628.0,339.4 L627.5,339.4 L627.0,342.6 L626.5,342.3 L626.0,343.5 L625.5,345.3 L625.0,346.1 L624.5,346.4 L624.0,346.8 L623.5,347.0 L623.0,348.1 L622.5,349.1 L622.0,349.2 L621.5,352.1 L621.0,353.1 L620.5,355.9 L620.0,356.3 L619.5,357.5 L619.0,358.6 L618.5,359.4 L618.0,361.0 L617.5,363.9 L617.0,363.0 L616.5,367.0 L616.0,365.2 L615.5,367.9 L615.0,368.7 L614.5,371.3 L614.0,371.5 L613.5,373.3 L613.0,374.4 L612.5,373.9 L612.0,374.8 L611.5,375.5 L611.0,372.5 L610.5,372.7 L610.0,372.2 L609.5,370.7 L609.0,370.0 L608.5,369.8 L608.0,369.6 L607.5,367.4 L607.0,366.9 L606.5,366.2 L606.0,366.8 L605.5,365.8 L605.0,366.3 L604.5,365.2 L604.0,362.9 L603.5,361.8 L603.0,363.1 L602.5,362.8 L602.0,363.0 L601.5,361.0Z" fill="#f8cece"/>
<line x1="427.2" y1="348.5" x2="677.8" y2="348.5" stroke="#9a9a9a" stroke-width="1" stroke-dasharray="3.7 2.0"/>
<polyline points="432.1,396.4 433.2,398.1 434.2,399.5 435.2,396.8 436.2,395.2 437.3,395.3 438.3,393.8 439.3,394.2 440.3,396.6 441.4,394.3 442.4,390.3 443.4,389.0 444.5,386.7 445.5,384.0 446.5,381.8 447.5,377.6 448.6,372.9 449.6,369.5 450.6,367.4 451.6,368.6 452.7,367.7 453.7,368.8 454.7,371.2 455.7,372.9 456.8,374.4 457.8,373.6 458.8,374.0 459.8,374.6 460.9,376.3 461.9,378.0 462.9,379.1 463.9,380.2 465.0,380.8 466.0,381.4 467.0,382.9 468.0,379.1 469.1,375.8 470.1,371.7 471.1,369.2 472.2,368.4 473.2,366.8 474.2,365.8 475.2,364.0 476.3,362.4 477.3,363.2 478.3,362.0 479.3,357.5 480.4,362.2 481.4,365.9 482.4,367.0 483.4,365.7 484.5,364.3 485.5,362.7 486.5,360.9 487.5,362.1 488.6,363.4 489.6,363.8 490.6,362.6 491.6,362.6 492.7,362.7 493.7,363.1 494.7,362.8 495.8,363.6 496.8,365.3 497.8,367.9 498.8,370.7 499.9,370.0 500.9,368.8 501.9,369.5 502.9,369.6 504.0,367.1 505.0,365.6 506.0,365.0 507.0,367.1 508.1,369.4 509.1,371.6 510.1,374.7 511.1,378.8 512.2,378.2 513.2,380.1 514.2,381.6 515.2,381.8 516.3,381.2 517.3,382.2 518.3,381.6 519.3,383.8 520.4,384.1 521.4,384.9 522.4,382.6 523.5,379.6 524.5,377.4 525.5,376.0 526.5,374.9 527.6,373.5 528.6,372.5 529.6,370.6 530.6,367.7 531.7,365.8 532.7,365.2 533.7,364.3 534.7,364.0 535.8,364.8 536.8,366.2 537.8,367.5 538.8,368.8 539.9,369.4 540.9,372.3 541.9,373.4 542.9,376.2 544.0,375.8 545.0,376.1 546.0,375.7 547.1,374.6 548.1,375.4 549.1,374.6 550.1,374.3 551.2,370.1 552.2,372.9 553.2,376.0 554.2,377.5 555.3,374.0 556.3,373.2 557.3,371.3 558.3,370.8 559.4,369.5 560.4,369.4 561.4,371.0 562.4,374.1 563.5,377.5 564.5,379.2 565.5,379.8 566.5,377.3 567.6,374.7 568.6,372.1 569.6,370.7 570.6,367.9 571.7,365.1 572.7,362.5 573.7,362.1 574.8,361.3 575.8,358.9 576.8,356.3 577.8,354.8 578.9,358.0 579.9,363.1 580.9,368.6 581.9,373.2 583.0,375.2 584.0,373.0 585.0,368.5 586.0,363.5 587.1,358.2 588.1,352.7 589.1,349.5 590.1,345.0 591.2,342.7 592.2,340.2 593.2,339.5 594.2,338.5 595.3,336.5 596.3,334.5 597.3,333.4 598.4,333.1 599.4,335.4 600.4,337.1 601.4,339.1" fill="none" stroke="#0072BD" stroke-width="1.5" stroke-linejoin="round"/>
<polyline points="601.5,338.5 602.6,339.2 603.6,338.3 604.6,338.7 605.6,341.3 606.7,340.6 607.7,342.4 608.7,344.1 609.7,344.9 610.8,345.9 611.8,347.7 612.8,350.1 613.9,347.7 614.9,346.0 615.9,343.2 616.9,340.6 618.0,336.9 619.0,333.2 620.0,329.3 621.0,327.8 622.1,328.6 623.1,328.9 624.1,330.3 625.1,329.1 626.2,326.5 627.2,325.7 628.2,322.7 629.2,320.1 630.3,317.1 631.3,316.1 632.3,316.2 633.3,317.3 634.4,319.3 635.4,320.1 636.4,321.1 637.5,318.5 638.5,316.2 639.5,316.1 640.5,317.4 641.6,322.0 642.6,325.1 643.6,329.1 644.6,330.2 645.7,329.5 646.7,329.6 647.7,330.7 648.7,328.6 649.8,325.9 650.8,322.5 651.8,320.5 652.8,318.6 653.9,314.4 654.9,310.0 655.9,305.4 656.9,300.8 658.0,302.1 659.0,303.8 660.0,303.9 661.0,304.3 662.1,304.9 663.1,303.7 664.1,305.9 665.2,306.9 666.2,305.3 667.2,303.8 668.2,301.6 669.3,301.0 670.3,301.3 671.3,303.0" fill="none" stroke="#D95319" stroke-width="1.5" stroke-linejoin="round"/>
<path d="M426.6,269.2 V422.2 H677.7" fill="none" stroke="#222" stroke-width="1.2"/>
<line x1="423.2" y1="295.0" x2="426.8" y2="295.0" stroke="#222" stroke-width="1"/>
<text transform="translate(419.50,299.70) scale(0.96,1)" font-size="12.5" fill="#000" text-anchor="end" >0.6</text>
<line x1="423.2" y1="345.8" x2="426.8" y2="345.8" stroke="#222" stroke-width="1"/>
<text transform="translate(419.50,350.55) scale(0.96,1)" font-size="12.5" fill="#000" text-anchor="end" >0.4</text>
<line x1="423.2" y1="396.7" x2="426.8" y2="396.7" stroke="#222" stroke-width="1"/>
<text transform="translate(419.50,401.40) scale(0.96,1)" font-size="12.5" fill="#000" text-anchor="end" >0.2</text>
<line x1="432.4" y1="422.2" x2="432.4" y2="426.2" stroke="#222" stroke-width="1"/>
<text x="433.0" y="437.4" font-size="12.5" fill="#000" text-anchor="middle" textLength="25.70" lengthAdjust="spacingAndGlyphs" >1850</text>
<line x1="483.7" y1="422.2" x2="483.7" y2="426.2" stroke="#222" stroke-width="1"/>
<text x="484.3" y="437.4" font-size="12.5" fill="#000" text-anchor="middle" textLength="25.70" lengthAdjust="spacingAndGlyphs" >1900</text>
<line x1="535.0" y1="422.2" x2="535.0" y2="426.2" stroke="#222" stroke-width="1"/>
<text x="535.6" y="437.4" font-size="12.5" fill="#000" text-anchor="middle" textLength="25.70" lengthAdjust="spacingAndGlyphs" >1950</text>
<line x1="586.3" y1="422.2" x2="586.3" y2="426.2" stroke="#222" stroke-width="1"/>
<text x="586.9" y="437.4" font-size="12.5" fill="#000" text-anchor="middle" textLength="25.70" lengthAdjust="spacingAndGlyphs" >2000</text>
<line x1="637.6" y1="422.2" x2="637.6" y2="426.2" stroke="#222" stroke-width="1"/>
<text x="638.2" y="437.4" font-size="12.5" fill="#000" text-anchor="middle" textLength="25.70" lengthAdjust="spacingAndGlyphs" >2050</text>
<text transform="translate(427.13,261.10) scale(0.86,1)" font-size="15.8" fill="#000" textLength="16.41" lengthAdjust="spacing">d.</text>
<text transform="translate(449.09,261.10) scale(0.86,1)" font-size="15.8" fill="#000" textLength="52.00" lengthAdjust="spacing">Dipole</text>
<text transform="translate(502.50,261.10) scale(0.86,1)" font-size="15.8" fill="#000" textLength="99.39" lengthAdjust="spacing">relationship</text>
<text transform="translate(598.39,261.10) scale(0.86,1)" font-size="15.8" fill="#000" textLength="15.11" lengthAdjust="spacing">in</text>
<text transform="translate(620.01,261.10) scale(0.86,1)" font-size="15.8" fill="#000" textLength="52.19" lengthAdjust="spacing">CMIP6</text>
<text transform="translate(518.20,454.90) scale(0.9,1)" font-size="13" fill="#000" textLength="73.78" lengthAdjust="spacing" >Start year</text>
<text transform="translate(386.80,404.60) rotate(-90) scale(0.9,1)" font-size="13" fill="#000" textLength="130.67" lengthAdjust="spacing" >Sliding correlation</text>
<line x1="440.5" y1="283.8" x2="460.8" y2="283.8" stroke="#0072BD" stroke-width="1.4"/>
<line x1="440.5" y1="302.7" x2="460.8" y2="302.7" stroke="#D95319" stroke-width="1.4"/>
<line x1="440.6" y1="322.1" x2="461.2" y2="322.1" stroke="#9a9a9a" stroke-width="1" stroke-dasharray="4 1.75"/>
<text transform="translate(464.98,288.50) scale(0.88,1)" font-size="12.8" fill="#0072BD" textLength="59.75" lengthAdjust="spacing">Historical</text>
<text transform="translate(465.09,308.00) scale(0.88,1)" font-size="12.8" fill="#D95319" textLength="50.32" lengthAdjust="spacing">SSP585</text>
<text transform="translate(465.17,327.00) scale(0.88,1)" font-size="12.8" fill="#a0a0a0" textLength="26.51" lengthAdjust="spacing">90%</text>
<text transform="translate(495.22,327.00) scale(0.88,1)" font-size="12.8" fill="#a0a0a0" textLength="68.39" lengthAdjust="spacing">confidence</text>
<text transform="translate(561.74,327.00) scale(0.88,1)" font-size="12.8" fill="#a0a0a0" textLength="28.65" lengthAdjust="spacing">level</text>
</svg>
</body></html>
